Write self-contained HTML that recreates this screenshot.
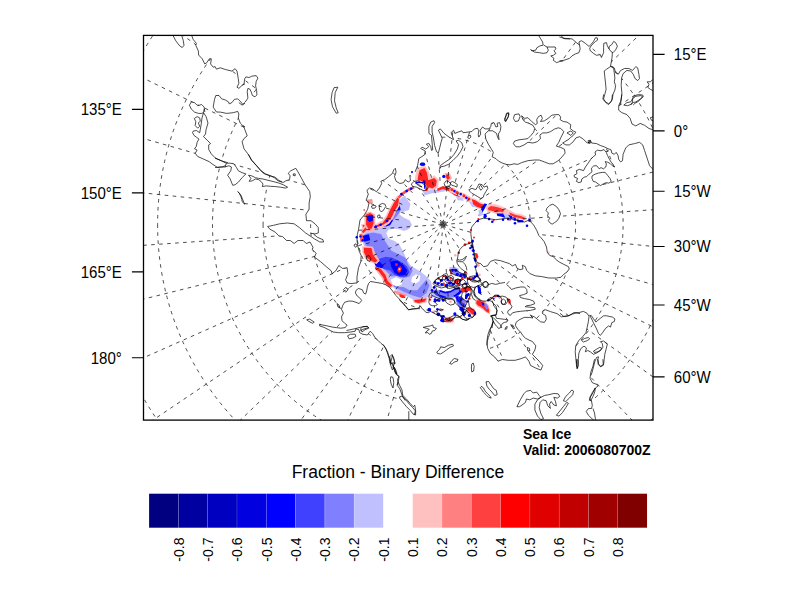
<!DOCTYPE html>
<html><head><meta charset="utf-8"><title>Sea Ice Fraction - Binary Difference</title>
<style>html,body{margin:0;padding:0;background:#fff}svg{display:block}text{font-family:"Liberation Sans",Arial,Helvetica,sans-serif;fill:#000}</style>
</head><body>
<svg width="792" height="612" viewBox="0 0 792 612">
<rect width="792" height="612" fill="#fff"/>
<defs>
<clipPath id="fr"><rect x="143.5" y="35.4" width="509.5" height="384.70000000000005"/></clipPath>
<mask id="ocean" maskUnits="userSpaceOnUse" x="0" y="0" width="792" height="612"><rect width="792" height="612" fill="#fff"/><path d="M191.3 30.0 L191.3 34.4 L193.2 39.5 L196.4 43.4 L195.8 45.3 L198.4 51.1 L198.6 55.0 L202.2 58.8 L204.8 64.0 L206.8 62.7 L209.3 58.8 L211.3 58.8 L210.6 64.0 L213.2 67.2 L215.1 66.6 L216.4 69.1 L220.3 67.8 L225.4 69.5 L231.9 71.1 L235.1 68.7 L237.0 71.1 L238.3 78.8 L238.9 83.3 L237.0 87.2 L238.9 88.4 L242.2 85.2 L245.0 83.9 L242.2 85.2 L244.0 83.9 L244.7 78.8 L245.9 76.9 L249.2 77.5 L251.7 76.2 L256.2 75.6 L257.9 78.1 L256.2 81.4 L255.6 85.9 L256.6 90.4 L256.9 94.9 L255.0 96.8 L252.4 95.5 L251.1 91.7 L249.8 89.1 L247.9 88.4 L247.2 91.7 L247.9 98.1 L245.3 102.0 L242.1 105.2 L238.9 102.6 L245.0 103.3 L242.8 104.5 L240.9 102.0 L237.7 98.8 L234.4 99.4 L231.9 102.6 L229.3 103.9 L228.6 102.0 L225.4 100.0 L221.6 98.8 L219.0 95.5 L215.8 95.5 L214.5 99.4 L213.2 107.1 L216.4 112.0 L216.4 112.0 L220.3 112.1 L226.7 113.4 L233.2 112.7 L237.7 111.4 L238.9 114.0 L238.3 117.9 L240.2 123.0 L242.8 125.6 L245.0 126.9 L243.4 125.6 L245.3 130.8 L247.2 135.9 L244.0 138.5 L242.1 141.7 L244.0 148.8 L247.9 153.9 L251.7 160.4 L256.9 166.2 L260.8 170.7 L264.6 173.9 L269.8 175.8 L274.9 177.1 L278.8 180.3 L282.0 182.0 L283.2 182.5 L285.7 180.9 L289.5 179.6 L290.1 175.8 L288.2 173.3 L290.8 170.8 L295.8 168.3 L297.7 171.4 L300.9 177.1 L304.6 184.0 L309.7 191.6 L310.3 196.7 L309.1 203.0 L309.1 209.3 L305.9 214.3 L306.5 220.7 L311.0 220.7 L315.0 223.8 L315.0 223.8 L318.3 227.6 L318.3 232.9 L313.8 234.4 L317.6 237.4 L322.9 239.7 L323.6 242.0 L319.8 242.0 L314.5 238.9 L310.0 235.9 L305.5 232.9 L299.4 227.6 L294.1 223.8 L287.3 223.0 L279.7 223.8 L273.6 225.3 L267.6 226.5 L267.6 226.5 L269.8 229.1 L275.2 232.1 L278.9 235.9 L282.7 236.7 L286.5 240.5 L290.3 240.5 L294.1 243.5 L297.9 240.5 L303.2 240.5 L306.2 243.5 L310.0 242.0 L313.0 247.3 L312.3 249.5 L316.1 253.3 L314.5 257.1 L320.6 261.7 L326.7 267.0 L331.2 270.8 L332.0 273.8 L335.8 270.8 L338.8 265.5 L342.6 268.5 L347.1 267.7 L347.9 273.8 L345.6 279.8 L347.1 282.9 L350.9 283.6 L357.0 282.9 L357.0 282.9 L357.0 276.8 L358.5 267.7 L360.8 261.7 L361.2 255.6 L359.2 251.1 L357.7 245.8 L357.0 240.5 L357.3 234.7 L358.5 229.8 L360.0 220.0 L364.5 214.7 L367.6 209.4 L369.1 202.6 L366.1 200.3 L368.3 194.2 L368.3 194.2 L367.3 191.8 L367.0 190.3 L369.5 188.0 L372.6 188.8 L376.4 191.8 L379.4 188.0 L381.7 183.5 L380.9 181.2 L384.7 179.7 L388.5 176.7 L392.3 173.6 L393.8 169.8 L395.3 168.3 L396.1 172.1 L394.5 176.7 L396.1 181.2 L399.8 183.5 L403.6 182.7 L405.2 179.7 L408.2 182.0 L410.5 180.5 L409.7 175.2 L415.1 171.9 L417.6 165.6 L418.8 158.6 L424.5 154.8 L425.2 151.0 L420.7 148.5 L422.0 147.2 L425.8 149.1 L428.9 146.6 L426.4 144.1 L428.9 143.5 L430.8 146.6 L431.5 150.4 L432.7 149.8 L432.1 142.8 L431.5 135.3 L428.9 133.4 L428.9 126.4 L430.8 122.0 L434.0 120.7 L434.6 122.6 L432.1 126.4 L432.1 132.1 L433.4 137.8 L434.6 145.4 L436.5 151.7 L438.4 152.9 L439.7 147.9 L440.9 142.8 L442.2 138.4 L440.3 134.0 L438.4 130.2 L440.3 128.9 L444.1 133.4 L449.1 137.1 L453.6 139.7 L452.3 135.9 L451.0 132.7 L453.6 130.2 L454.8 133.4 L458.0 132.1 L461.8 130.8 L463.0 132.7 L468.1 132.1 L471.9 131.5 L474.4 128.9 L477.6 128.3 L478.8 130.8 L478.2 134.6 L478.8 137.1 L480.7 134.0 L480.1 130.2 L482.6 127.0 L485.1 128.9 L488.9 128.9 L490.8 126.4 L491.4 123.3 L494.0 122.6 L495.9 127.0 L497.8 126.4 L497.1 123.3 L499.6 122.6 L500.9 126.4 L500.3 130.8 L498.4 134.0 L499.0 139.7 L497.8 137.8 L496.5 133.4 L492.7 130.8 L488.3 130.8 L485.1 134.0 L485.8 139.0 L488.3 144.1 L491.4 149.1 L493.3 152.3 L492.1 156.7 L495.9 158.6 L498.4 161.1 L502.2 163.0 L506.0 164.3 L510.0 164.9 L509.9 164.9 L514.0 163.8 L517.8 164.4 L521.6 162.6 L527.9 160.7 L534.2 160.0 L539.2 160.0 L544.3 161.9 L549.3 163.8 L553.1 163.8 L558.2 160.7 L562.0 156.9 L565.1 153.1 L564.5 149.3 L560.7 147.4 L556.3 146.1 L558.8 142.3 L560.7 137.9 L563.9 131.6 L563.9 131.6 L560.7 128.5 L558.2 127.8 L554.4 129.1 L550.6 131.6 L546.8 132.9 L542.4 132.9 L539.9 135.4 L540.5 138.6 L537.3 141.7 L532.9 143.0 L527.9 142.3 L524.1 144.9 L519.7 146.8 L515.9 146.8 L513.4 143.6 L514.6 141.1 L519.0 139.8 L524.1 139.2 L527.9 138.6 L531.0 135.4 L533.6 132.2 L534.8 128.5 L532.9 125.3 L529.1 123.4 L525.4 122.1 L522.8 119.6 L521.6 115.8 L524.7 118.4 L527.9 117.7 L531.7 121.5 L535.5 124.7 L537.3 123.4 L536.7 119.6 L538.6 116.5 L541.1 115.2 L542.4 118.4 L540.5 121.5 L544.3 120.9 L548.1 118.4 L551.9 115.2 L555.7 114.6 L558.8 114.6 L560.7 117.1 L560.1 119.6 L563.2 121.5 L567.0 122.1 L570.8 124.7 L570.2 128.5 L573.3 131.0 L575.9 132.2 L573.3 135.4 L570.8 137.3 L568.9 139.2 L565.8 141.1 L562.6 143.0 L565.8 144.9 L569.5 144.9 L573.3 141.7 L575.9 137.9 L579.6 136.7 L583.4 139.2 L587.2 143.0 L590.0 142.3 L588.4 143.0 L590.3 140.5 L591.6 143.0 L596.6 143.6 L600.4 145.5 L604.2 146.8 L608.0 148.7 L611.1 149.9 L611.8 153.1 L614.3 154.3 L616.2 152.4 L618.1 155.6 L618.7 159.4 L620.6 161.9 L622.5 160.7 L623.1 154.3 L625.7 148.0 L628.8 144.9 L634.5 143.6 L639.5 142.3 L642.7 144.9 L644.6 150.6 L647.1 158.1 L649.6 165.7 L654.1 170.5 L660.0 170.5 L660.0 130.1 L654.1 130.1 L649.0 128.5 L644.6 125.3 L640.2 123.4 L635.8 125.9 L632.0 124.0 L630.1 118.4 L626.9 114.6 L621.9 112.7 L618.7 110.2 L618.7 105.7 L620.6 101.3 L621.9 94.4 L621.9 93.1 L621.2 85.6 L621.6 78.0 L623.1 73.6 L626.9 70.4 L630.7 71.0 L633.2 74.2 L635.1 78.6 L637.7 80.5 L639.5 78.6 L638.9 74.2 L637.7 67.9 L635.8 66.6 L632.6 70.4 L628.8 68.5 L624.4 68.5 L620.4 70.7 L618.3 74.2 L615.6 72.9 L614.3 67.9 L612.4 66.6 L612.4 66.6 L613.7 69.1 L614.3 72.9 L614.9 78.0 L614.3 81.8 L615.6 85.6 L614.9 90.0 L613.0 94.4 L612.4 98.8 L610.5 102.6 L608.0 104.5 L605.5 102.0 L603.6 98.8 L604.8 94.4 L606.1 89.3 L605.5 83.0 L604.8 76.7 L604.2 71.0 L606.7 69.1 L610.5 66.6 L610.5 66.6 L611.1 62.8 L612.0 57.8 L612.4 52.7 L613.0 52.7 L615.6 49.9 L617.4 46.2 L615.6 42.6 L613.7 41.4 L613.7 30.0Z M172.4 34.4 L175.8 40.8 L179.7 45.9 L182.3 47.5 L184.0 45.3 L183.2 40.2 L181.4 34.4Z M398.9 298.6 L395.8 295.4 L392.6 291.0 L389.4 287.2 L385.7 284.7 L381.9 283.4 L378.1 282.8 L374.3 282.1 L370.5 281.5 L368.6 283.4 L367.3 287.2 L366.7 291.0 L365.5 294.1 L363.6 292.9 L362.3 289.7 L358.5 288.5 L356.0 290.4 L355.4 292.9 L357.2 296.0 L360.4 298.6 L361.7 300.5 L359.1 303.6 L356.0 302.3 L352.2 301.1 L348.4 301.1 L344.6 302.3 L342.7 305.5 L341.5 309.3 L343.4 313.1 L341.5 316.9 L342.1 320.7 L344.6 323.2 L347.1 325.1 L345.3 327.6 L340.8 328.2 L336.4 327.6 L332.0 327.0 L326.3 325.7 L319.4 324.4 L319.4 324.4 L320.3 324.4 L319.5 325.9 L324.1 327.4 L328.6 329.7 L333.2 332.0 L338.5 332.7 L344.5 332.7 L350.6 332.0 L355.2 331.2 L355.9 328.9 L358.9 329.7 L359.7 332.7 L362.7 334.2 L367.3 335.0 L370.3 331.2 L372.6 333.5 L374.8 337.3 L377.9 340.3 L380.9 343.3 L383.9 345.6 L385.3 347.6 L387.6 352.1 L389.1 356.7 L390.6 361.2 L392.9 365.8 L395.2 370.3 L396.7 374.1 L398.9 376.4 L397.4 380.2 L399.7 385.5 L402.0 390.0 L402.7 395.3 L406.5 399.1 L410.3 403.6 L413.3 406.7 L414.8 405.2 L408.8 411.2 L408.8 421.1 L408.8 426.0 L595.3 426.0 L595.3 421.4 L592.3 419.1 L588.5 415.3 L586.2 411.5 L588.5 408.5 L591.5 408.5 L592.3 405.5 L591.5 400.9 L589.2 400.2 L590.8 396.4 L593.0 392.6 L595.3 388.0 L598.3 385.8 L596.1 384.2 L592.3 382.7 L590.0 378.2 L590.8 372.1 L593.0 366.1 L594.5 359.2 L590.9 375.5 L592.2 372.0 L593.5 366.9 L594.7 361.9 L596.6 357.4 L598.5 356.8 L597.9 359.3 L598.5 363.8 L600.4 366.3 L603.6 364.4 L604.2 359.3 L604.8 354.3 L606.1 349.2 L607.3 344.2 L603.6 341.0 L600.4 341.7 L602.3 343.6 L602.9 347.3 L600.4 350.5 L596.6 353.0 L593.5 354.3 L590.3 351.8 L587.8 350.5 L585.3 351.8 L586.5 348.0 L584.0 346.1 L580.8 348.6 L578.9 353.0 L578.3 359.3 L578.3 365.7 L577.0 368.8 L576.4 364.4 L575.8 358.1 L575.2 351.8 L575.8 345.5 L578.9 340.4 L582.7 336.6 L585.9 332.8 L587.1 327.8 L588.4 321.5 L589.0 316.4 L587.1 313.3 L583.4 311.4 L580.0 313.6 L576.0 313.0 L572.2 314.2 L567.1 316.1 L561.4 316.8 L557.0 313.6 L550.7 311.7 L545.7 309.8 L543.1 310.5 L535.3 309.2 L534.7 307.7 L529.7 307.2 L525.2 306.7 L526.7 305.7 L530.7 305.2 L534.7 303.7 L533.7 301.2 L529.7 299.6 L524.6 298.6 L520.6 297.6 L519.6 295.6 L523.6 294.6 L527.2 293.1 L526.7 289.5 L524.6 287.0 L520.6 287.0 L515.6 288.0 L511.5 289.5 L509.5 287.0 L506.5 284.5 L505.0 282.4 L499.7 283.4 L495.7 284.4 L491.7 283.4 L488.1 284.9 L480.7 284.7 L469.2 286.5 L471.4 289.1 L470.9 292.7 L470.1 296.2 L468.3 299.7 L468.7 302.4 L469.2 305.9 L470.9 308.6 L473.6 309.9 L475.4 312.1 L474.9 314.8 L474.7 314.3 L472.7 317.3 L469.7 318.3 L466.7 320.4 L462.6 319.3 L459.6 317.3 L455.6 317.3 L451.5 319.3 L447.5 320.9 L442.9 321.9 L438.4 314.3 L435.9 314.3 L433.3 312.8 L430.3 311.3 L428.8 312.8 L425.8 312.3 L424.2 310.3 L421.7 308.2 L420.7 306.2 L419.2 307.7 L416.2 308.7 L412.1 309.2 L408.6 309.7 L406.1 306.7 L403.0 303.2 L399.5 300.2Z M478.3 219.7 L483.6 218.2 L489.7 218.9 L495.8 219.7 L501.8 218.9 L507.9 218.2 L513.9 219.7 L520.0 221.2 L524.5 222.0 L529.8 219.7 L531.4 222.7 L533.6 225.0 L536.7 230.3 L538.9 235.6 L541.2 237.9 L544.2 241.7 L546.5 247.0 L547.3 252.3 L549.5 255.3 L553.3 256.8 L556.4 259.8 L559.4 262.1 L563.9 264.4 L568.5 266.7 L569.2 268.9 L567.0 272.0 L563.9 274.2 L560.9 277.3 L556.4 278.0 L548.8 278.0 L541.2 276.5 L535.2 275.8 L529.8 273.5 L526.8 270.5 L525.3 266.7 L522.3 265.2 L523.0 268.9 L520.0 269.7 L517.0 268.2 L515.5 264.4 L512.4 265.9 L509.4 263.6 L504.8 262.1 L500.3 260.6 L495.0 259.8 L490.5 261.4 L487.4 265.9 L483.6 266.7 L480.6 263.6 L477.6 262.9 L475.3 259.1 L473.8 253.0 L473.0 245.5 L471.5 239.4 L470.8 233.3 L471.5 227.3 L474.5 223.5 L478.3 219.7Z M231.4 167.0 L230.8 170.8 L227.6 175.2 L230.2 179.0 L232.7 185.3 L235.2 184.7 L238.4 182.1 L242.1 177.7 L245.9 173.9 L242.1 172.7 L238.4 170.8 L236.5 167.6 L233.9 163.8 L230.2 163.2 L226.4 163.2Z M248.5 175.2 L251.6 175.8 L255.4 177.7 L258.6 178.4 L263.0 179.0 L268.0 180.3 L273.1 181.5 L278.1 182.8 L283.2 184.7 L287.6 187.2 L285.7 188.1 L280.7 187.2 L275.6 186.6 L270.6 186.3 L266.1 185.9 L262.3 186.6 L263.0 184.0 L261.1 181.5 L258.6 179.6 L255.4 179.0 L252.2 180.9 L249.1 181.3 L251.0 178.4 L248.5 175.2Z M203.5 112.7 L202.0 117.9 L201.2 124.3 L200.3 129.5 L199.7 132.7 L196.4 130.5 L193.2 131.1 L192.6 132.7 L193.9 135.3 L196.4 137.2 L199.0 139.1 L197.1 142.3 L196.4 146.2 L194.5 148.8 L197.1 150.1 L195.2 153.3 L197.7 156.5 L203.5 159.1 L209.3 161.7 L212.5 164.2 L217.7 167.5 L222.8 166.8 L225.4 165.5 L231.0 167.0 L226.4 163.2 L225.4 162.3 L220.3 160.4 L215.1 157.8 L211.3 153.9 L208.7 149.4 L208.7 144.9 L210.6 143.6 L207.4 140.4 L203.5 136.6 L205.5 134.0 L206.1 129.5 L208.0 123.0 L206.1 116.6 L203.5 112.7Z M194.5 112.0 L191.3 109.1 L189.4 105.2 L191.3 102.0 L194.5 102.6 L197.7 105.8 L201.6 104.5 L204.2 107.1 L204.8 112.0 L194.5 112.1 L198.4 113.4 L201.6 113.4 L203.5 112.7 L204.2 108.9Z M197.1 116.6 L199.7 117.9 L200.3 121.1 L198.4 123.0 L199.7 126.2 L197.7 128.2 L195.2 125.6 L195.8 121.7 L194.3 118.5 L197.1 116.6Z M574.0 175.4 L577.0 173.6 L576.4 170.6 L579.4 169.4 L583.6 170.6 L585.4 167.0 L588.4 162.8 L590.8 159.2 L593.8 156.2 L595.6 155.0 L595.0 152.0 L597.4 150.2 L601.0 150.8 L604.0 149.6 L606.4 152.6 L607.6 155.6 L609.4 159.2 L611.2 162.2 L613.0 164.6 L614.8 167.0 L612.4 165.8 L610.0 163.4 L607.6 162.2 L605.2 161.6 L606.4 164.0 L605.8 167.0 L603.4 168.8 L601.0 167.6 L599.2 168.8 L596.8 165.8 L593.8 165.8 L591.4 168.2 L592.0 171.8 L589.0 174.2 L586.6 176.6 L584.2 177.2 L581.8 179.0 L581.2 182.0 L578.8 182.6 L576.4 181.4 L577.6 178.4 L574.6 177.2 L574.0 175.4Z M592.0 176.0 L595.0 174.2 L598.6 173.0 L602.2 172.4 L605.2 172.4 L607.6 175.4 L610.0 178.4 L611.2 181.4 L608.8 183.2 L606.4 182.6 L603.4 183.8 L600.4 185.6 L598.0 183.8 L595.6 182.0 L593.2 181.4 L592.0 178.4 L592.0 176.0Z M546.8 208.3 L549.8 205.3 L552.9 204.2 L556.7 206.8 L558.9 209.8 L560.5 213.6 L558.9 218.2 L556.7 221.2 L554.4 222.7 L552.1 224.2 L549.8 222.7 L548.3 220.5 L549.8 218.2 L547.6 215.9 L548.3 212.9 L546.1 210.6 L546.8 208.3Z M468.8 189.7 L472.0 188.4 L475.8 189.7 L477.7 186.5 L478.9 184.0 L482.1 184.6 L484.0 187.1 L487.1 185.9 L487.8 188.4 L485.9 191.6 L484.0 194.7 L483.3 197.2 L480.8 198.5 L477.7 196.6 L474.5 194.7 L472.0 193.5 L470.1 191.6 L468.8 189.7Z M439.7 168.7 L440.3 165.6 L444.7 162.4 L450.4 158.6 L454.2 154.2 L457.3 149.1 L458.6 144.7 L456.1 140.9 L458.6 140.3 L461.8 142.8 L463.0 146.6 L460.5 151.7 L457.3 156.1 L452.9 160.5 L448.5 164.3 L444.1 166.2 L440.9 166.8 L439.7 168.7Z M411.4 184.0 L413.9 181.5 L417.7 180.8 L421.5 182.7 L425.3 185.3 L427.1 189.0 L424.0 190.9 L420.2 189.0 L416.4 187.1 L412.6 186.5 L411.4 184.0Z M471.5 242.0 L469.4 243.5 L465.4 244.5 L462.4 246.6 L459.8 249.6 L458.3 253.1 L457.8 256.7 L457.3 259.2 L456.8 260.7 L457.3 263.7 L459.3 266.8 L461.9 269.3 L464.9 271.3 L466.9 273.3 L466.4 276.4 L467.9 278.9 L471.0 279.4 L473.5 279.9 L476.5 280.9 L478.5 282.4 L480.6 280.9 L479.0 278.4 L477.5 274.8 L476.5 272.3 L475.5 268.3 L476.5 264.7 L475.5 261.7 L474.0 258.2 L474.5 254.1 L473.5 250.1 L472.5 246.1 L471.5 242.0Z M430.3 293.1 L433.3 292.1 L436.4 292.6 L438.9 295.1 L440.4 297.6 L438.4 299.1 L436.4 300.2 L435.4 302.7 L437.4 304.7 L435.4 305.7 L432.3 305.7 L429.8 304.7 L428.8 302.2 L429.3 299.1 L428.8 296.1 L430.3 293.1Z M440.4 297.6 L443.4 299.1 L447.5 298.1 L450.5 298.6 L453.5 300.2 L456.1 303.7 L458.1 305.7 L460.6 307.7 L463.1 309.2 L463.6 312.3 L462.1 315.3 L459.6 316.8 L456.1 315.3 L453.0 315.8 L450.5 317.3 L447.5 318.8 L444.4 319.8 L442.9 321.9 L441.4 320.4 L441.9 317.3 L440.4 315.3 L438.4 314.3 L436.9 312.3 L437.9 309.7 L440.4 309.2 L443.4 309.7 L441.4 310.8 L439.4 310.3Z M589.7 315.2 L591.6 318.9 L594.1 324.0 L596.6 329.0 L598.5 333.5 L600.4 335.4 L602.9 332.2 L605.5 328.4 L608.6 325.9 L610.5 327.1 L611.8 322.7 L614.3 321.5 L614.9 318.9 L612.4 317.0 L609.2 316.4 L606.7 315.8 L603.6 315.8 L600.4 318.3 L597.9 320.2 L596.0 322.1 L593.5 318.9 L591.6 315.8 L589.7 315.2Z M399.7 396.8 L402.0 396.1 L405.8 399.8 L409.5 404.4 L412.6 407.4 L415.6 411.2 L415.6 415.0 L413.3 414.2 L410.3 410.5 L406.5 406.7 L402.7 402.1 L399.7 398.3 L399.7 396.8Z M623.8 105.1 L626.9 102.6 L630.7 101.9 L632.6 98.8 L635.8 96.3 L640.8 95.6 L642.7 96.9 L638.9 100.1 L635.8 101.9 L633.2 102.6 L630.7 104.5 L627.6 105.7 L623.8 105.1Z M450.3 270.3 L453.3 269.3 L456.3 270.3 L459.3 272.3 L461.9 273.8 L464.9 274.8 L466.4 276.4 L465.4 278.4 L462.4 277.4 L459.3 276.4 L456.3 275.4 L453.3 274.3 L450.8 272.8 L450.3 270.3Z M433.1 283.4 L435.1 280.4 L438.1 277.9 L441.2 276.4 L444.2 274.3 L446.7 273.3 L447.7 275.4 L446.7 277.9 L449.2 279.9 L451.8 282.4 L454.3 284.9 L457.3 286.0 L459.3 287.5 L455.3 288.0 L452.3 286.5 L449.2 285.5 L446.2 286.5 L443.2 285.5 L440.2 286.0 L437.1 284.9 L434.6 285.5 L433.1 283.4Z M467.4 278.9 L470.5 279.9 L473.5 280.4 L476.5 281.4 L479.5 280.4 L481.1 282.4 L481.6 285.5 L479.5 287.5 L476.5 286.5 L473.5 287.5 L470.5 286.5 L468.4 284.4 L467.4 281.4 L467.4 278.9Z M366.1 256.4 L369.1 255.6 L370.9 258.6 L369.8 261.4 L367.3 260.5 L366.1 256.4Z M347.6 335.8 L350.6 334.2 L355.2 334.2 L355.9 336.5 L352.9 338.0 L349.1 338.8 L347.6 335.8Z" fill="#000"/><path d="M493.4 321.4 L492.0 325.2 L489.4 330.3 L487.7 335.5 L486.9 342.3 L487.7 348.3 L490.3 353.5 L494.6 356.9 L498.0 361.2 L502.3 359.5 L508.3 360.3 L515.2 360.3 L521.2 358.6 L525.5 356.9 L528.9 361.2 L530.6 365.5 L535.8 368.1 L540.9 370.1 L542.7 365.5 L539.2 361.2 L534.9 356.9 L532.4 354.3 L534.9 350.0 L535.8 345.8 L532.4 341.5 L529.8 340.4 L529.9 340.5 L525.5 338.2 L522.9 335.7 L521.0 332.6 L517.9 329.4 L515.4 325.6 L516.0 322.4 L519.1 319.9 L524.2 317.4 L529.2 317.4 L533.0 318.0 L530.5 315.5 L534.3 316.8 L537.4 319.3 L540.6 321.8 L544.4 322.4 L546.3 319.3 L545.7 315.5 L542.5 313.6 L543.1 310.5 L535.3 309.2 L530.7 310.3 L525.7 310.8 L520.6 311.3 L516.6 311.8 L512.5 312.8 L510.5 315.3 L509.0 314.8 L507.5 312.3 L508.5 310.3 L510.5 309.2 L512.0 306.7 L510.5 304.2 L508.5 300.2 L506.0 297.1 L502.4 296.1 L499.4 296.6 L497.9 295.1 L494.8 295.1 L492.3 297.6 L490.3 299.6 L488.3 300.2 L491.3 301.2 L493.3 303.2 L493.8 306.2 L495.4 307.7 L497.4 310.3 L496.4 313.3 L495.4 315.3 L491.3 315.8 L492.3 318.3 L492.8 320.4Z M480.7 284.7 L477.1 286.0 L474.9 288.3 L473.6 291.4 L474.0 294.9 L475.8 297.5 L478.9 299.7 L482.4 301.1 L486.0 301.1 L488.6 300.2 L492.1 298.4 L493.9 296.2 L489.5 292.7 L486.0 288.3 L483.3 285.6Z M538.2 34.8 L540.7 38.8 L542.6 42.0 L543.2 45.2 L543.9 45.2 L547.0 47.0 L547.0 47.0 L550.8 47.0 L555.2 47.0 L555.9 48.9 L554.0 50.8 L555.9 53.4 L553.3 55.3 L550.8 55.9 L554.0 58.4 L553.3 60.3 L556.5 62.6 L559.6 61.6 L563.4 60.9 L559.4 60.9 L563.8 60.3 L569.5 58.4 L572.0 55.9 L575.2 54.0 L578.9 52.7 L580.2 48.9 L579.6 45.2 L576.4 42.6 L572.0 38.8 L565.1 38.8 L559.4 36.9 L570.0 38.8 L563.4 38.2 L560.3 34.8Z M543.2 45.2 L540.1 45.8 L536.9 47.7 L535.7 50.2 L531.9 50.8 L530.6 49.6 L534.4 52.1 L539.4 52.7 L543.2 53.4 L547.0 52.7 L548.3 50.2 L547.0 47.0 L543.9 45.2Z M610.5 66.6 L606.7 69.1 L604.2 71.0 L604.8 76.7 L605.5 83.0 L606.1 89.3 L604.8 94.4 L603.6 98.8 L605.5 102.0 L608.0 104.5 L610.5 102.6 L612.4 98.8 L613.0 94.4 L614.9 90.0 L615.6 85.6 L614.3 81.8 L614.9 78.0 L614.3 72.9 L613.7 69.1 L612.4 66.6 L610.5 66.6Z M593.1 43.6 L590.9 46.2 L589.7 48.3 L590.3 50.8 L593.5 53.4 L596.6 55.3 L600.4 54.6 L601.4 57.5 L603.6 52.7 L603.6 47.7 L603.8 43.3 L603.8 30.0 L593.1 30.0Z" fill="#fff"/><path d="M491.3 315.8 L495.4 315.3 L496.4 318.3 L500.4 318.8 L504.4 319.3 L507.5 319.8 L507.0 321.9 L504.4 322.4 L502.4 323.4 L501.4 325.4 L500.4 327.9 L498.4 328.4 L496.9 326.4 L495.4 324.9 L494.3 322.9 L492.8 320.4 L492.3 318.3 L491.3 315.8Z" fill="#000"/></mask>
<filter id="bl" x="-5%" y="-5%" width="110%" height="110%"><feGaussianBlur stdDeviation="0.6"/></filter>
</defs>
<g clip-path="url(#fr)">
<g filter="url(#bl)"><path d="M362.7 231.8 L370.3 227.3 L379.4 227.3 L385.5 222.7 L391.5 215.9 L397.6 212.9 L403.6 217.4 L409.7 220.5 L412.0 225.0 L408.2 229.5 L403.6 231.1 L400.6 229.5 L394.5 228.8 L388.5 229.5 L386.2 233.3 L388.5 238.6 L394.5 240.9 L399.1 243.9 L403.6 252.3 L406.7 259.8 L411.2 265.9 L418.8 270.5 L424.8 275.0 L430.9 281.1 L432.4 288.6 L429.4 296.2 L421.8 300.0 L415.8 301.5 L411.2 298.5 L405.2 295.5 L397.6 291.7 L391.5 285.6 L387.0 281.1 L384.7 275.0 L380.9 269.7 L375.6 265.9 L378.6 260.6 L374.1 255.3 L372.6 247.7 L364.2 246.2 L362.0 240.2 L362.7 231.8Z" fill="#c0c0ff"/><path d="M365.0 234.1 L373.3 232.6 L380.9 234.1 L385.5 241.7 L391.5 250.8 L399.1 254.5 L405.2 257.6 L408.2 264.4 L412.7 270.5 L409.7 276.5 L403.6 278.0 L397.6 275.8 L391.5 276.5 L385.5 270.5 L379.4 265.9 L377.9 259.8 L374.8 253.8 L373.3 247.7 L365.8 245.5 L363.5 240.2Z" fill="#8080ff"/><path d="M388.5 282.6 L394.5 287.1 L403.6 291.7 L412.7 295.5 L420.3 297.7 L426.4 293.2 L429.4 285.6 L426.4 279.5 L422.6 284.1 L417.3 290.2 L409.7 290.2 L403.6 287.1 L399.1 287.1 L393.0 284.1Z" fill="#8080ff"/><path d="M390.8 279.5 L396.1 277.3 L401.4 279.5 L402.1 284.1 L397.6 286.4 L392.3 284.8Z" fill="#ffffff"/><path d="M412.0 277.3 L415.8 274.2 L420.3 275.8 L419.5 281.1 L415.0 284.1 L411.2 281.8Z" fill="#ffffff"/><path d="M376.4 259.8 L385.5 256.8 L391.5 257.6 L400.6 261.4 L406.7 265.9 L409.7 272.0 L406.7 276.5 L400.6 277.3 L394.5 275.0 L390.0 270.5 L383.9 268.9 L377.9 265.9Z" fill="#4040ff"/><path d="M390.0 261.4 L397.6 260.6 L403.6 265.2 L407.4 270.5 L405.2 275.0 L399.1 275.8 L394.5 272.7 L391.5 267.4Z" fill="#0000ff"/><path d="M374.1 262.9 L379.4 261.4 L383.9 265.9 L380.9 268.9 L376.4 267.4Z" fill="#0000ff"/><path d="M397.9 267.4 L400.3 265.9 L401.8 268.2 L400.6 272.0 L398.3 272.7 L397.3 270.2Z" fill="#ff2020"/><circle cx="399.5" cy="269.2" r="1.0" fill="#ffffff"/><path d="M394.8 263.6 L397.3 263.2 L397.9 265.6 L395.8 266.2Z" fill="#ff2020"/><path d="M361.2 224.2 L376.4 224.2 L377.1 229.5 L370.3 231.8 L362.7 231.1Z" fill="#ffb0b0"/><path d="M362.7 225.0 L370.3 225.0 L374.8 228.0 L370.3 230.3 L364.2 229.5Z" fill="#ff2020"/><path d="M359.4 234.1 L362.7 233.3 L363.5 241.7 L360.5 242.4Z" fill="#ff6060"/><path d="M362.4 246.2 L372.6 246.5 L375.6 254.1 L379.7 260.6 L376.7 264.1 L369.8 262.1 L365.0 258.6 L362.4 252.6Z" fill="#ffb0b0"/><path d="M363.9 247.7 L371.5 248.0 L373.0 255.0 L377.3 260.5 L375.2 262.6 L370.6 260.5 L366.7 257.4 L363.9 252.3Z" fill="#ff2020"/><path d="M374.1 265.9 L381.7 268.2 L387.0 274.2 L389.2 280.3 L393.8 285.6 L390.8 288.6 L384.7 284.8 L381.7 278.0 L377.1 272.0Z" fill="#ffb0b0"/><path d="M375.6 266.7 L380.9 268.9 L385.5 275.0 L387.7 281.1 L392.3 285.6 L390.0 287.1 L385.5 283.3 L383.2 277.3 L378.6 271.2 L374.8 268.9Z" fill="#ff2020"/><path d="M394.5 290.2 L400.6 292.4 L406.7 294.7 L405.2 297.0 L399.1 295.5 L393.8 292.4Z" fill="#ff9090"/><path d="M412.7 299.2 L422.6 298.0 L427.9 297.7 L426.4 302.6 L418.8 304.1 L413.5 302.6Z" fill="#ffb0b0"/><path d="M414.2 300.0 L421.8 299.2 L426.4 298.5 L424.8 301.5 L418.8 303.0 L415.0 302.3Z" fill="#ff2020"/><circle cx="362.7" cy="240.2" r="1.2" fill="#0000ff"/><circle cx="360.5" cy="236.4" r="1.2" fill="#0000ff"/><circle cx="375.6" cy="227.3" r="1.2" fill="#0000ff"/><circle cx="383.9" cy="225.8" r="1.2" fill="#0000ff"/><path d="M399.8 199.4 L406.7 198.6 L410.5 203.9 L408.9 210.0 L402.1 212.3 L398.3 208.5 L397.6 203.2Z" fill="#c0c0ff"/><path d="M390.0 220.6 L394.5 213.0 L398.3 205.5 L400.6 198.6 L405.2 195.6 L406.7 199.4 L403.6 205.5 L400.6 212.3 L397.6 217.6 L393.0 223.6 L387.0 227.4Z" fill="#c0c0ff"/><path d="M385.5 220.6 L391.5 213.0 L396.1 205.5 L399.8 203.9 L400.6 210.0 L397.6 215.3 L393.0 220.6 L388.5 225.2Z" fill="#8080ff"/><path d="M395.3 205.5 L399.8 206.2 L400.6 210.0 L396.8 210.8Z" fill="#0000ff"/><path d="M384.7 222.1 L390.0 218.3 L393.0 220.6 L390.0 225.2 L385.5 226.7Z" fill="#0000ff"/><path d="M360.5 231.5 L365.0 225.2 L374.8 224.4 L382.1 220.6 L385.9 215.5 L389.5 207.9 L393.3 200.9 L397.3 195.6 L400.0 197.6 L399.2 206.2 L395.5 213.0 L393.0 218.3 L389.2 223.6 L384.7 226.4 L376.4 229.2 L368.8 229.7 L362.7 235.0Z" fill="#ffc0c0"/><path d="M362.0 231.5 L366.1 226.7 L374.8 226.1 L382.7 222.7 L387.0 217.0 L390.3 209.4 L394.1 202.6 L397.6 197.4 L399.1 199.1 L397.9 205.5 L394.1 212.0 L391.8 217.0 L387.9 221.8 L383.6 224.5 L376.4 227.6 L368.8 227.9 L363.0 233.3Z" fill="#ff2020"/><path d="M397.6 196.8 L400.6 193.6 L405.2 190.3 L408.9 188.0 L413.5 186.1 L414.5 188.5 L410.0 190.3 L406.4 192.6 L402.1 196.1 L399.4 198.6Z" fill="#ff5050"/><circle cx="375.6" cy="226.7" r="1.3" fill="#0000ff"/><circle cx="380.6" cy="224.8" r="1.3" fill="#0000ff"/><circle cx="387.0" cy="220.9" r="1.3" fill="#0000ff"/><circle cx="401.4" cy="194.1" r="1.3" fill="#0000ff"/><circle cx="406.7" cy="191.1" r="1.3" fill="#0000ff"/><circle cx="411.2" cy="188.8" r="1.3" fill="#0000ff"/><path d="M417.0 168.3 L424.8 165.3 L429.1 171.8 L430.3 177.9 L434.2 175.2 L438.8 179.4 L438.2 187.3 L433.6 190.8 L429.1 189.5 L427.9 194.1 L423.0 192.6 L420.9 187.6 L414.5 180.5 L415.8 173.3Z" fill="#ffc0c0"/><path d="M419.5 170.3 L424.5 167.9 L427.0 172.7 L428.2 180.0 L430.6 179.4 L434.2 177.9 L436.7 180.5 L436.1 185.8 L432.4 188.5 L428.8 187.3 L427.0 191.5 L423.9 190.3 L422.7 185.5 L417.6 179.4 L418.5 174.2Z" fill="#ff2020"/><path d="M415.8 182.7 L420.3 180.5 L424.8 182.7 L427.1 187.3 L424.8 190.3 L420.3 189.5 L416.5 186.5Z" fill="#ffffff"/><path d="M415.8 181.7 L424.8 181.7 L424.8 183.2 L415.8 183.2Z" fill="#0000ff"/><path d="M423.8 180.5 L425.3 180.5 L425.6 188.8 L424.1 188.8Z" fill="#0000ff"/><path d="M429.4 190.3 L437.0 189.5 L444.5 188.0 L446.1 191.1 L438.5 192.6 L430.9 193.6 L424.8 195.6 L423.3 192.6Z" fill="#c0c0ff"/><path d="M437.0 188.8 L443.0 186.1 L449.1 188.0 L455.2 192.1 L460.0 195.2 L460.0 197.9 L454.4 195.2 L448.3 191.1 L443.0 189.1 L437.7 191.1Z" fill="#ff2020"/><path d="M444.5 172.9 L449.8 172.9 L452.1 178.2 L449.1 181.2 L445.3 178.9Z" fill="#ffb0b0"/><path d="M446.1 174.4 L448.8 174.4 L449.8 178.2 L447.6 179.7 L446.1 177.4Z" fill="#ff2020"/><circle cx="443.8" cy="176.4" r="1.6" fill="#0000ff"/><circle cx="422.6" cy="164.2" r="1.6" fill="#0000ff"/><circle cx="423.6" cy="164.2" r="1.6" fill="#0000ff"/><circle cx="421.5" cy="164.2" r="1.6" fill="#0000ff"/><circle cx="412.0" cy="172.1" r="1.1" fill="#0000ff"/><path d="M366.5 199.7 L372.1 199.1 L373.0 202.7 L367.6 203.6Z" fill="#ff9090"/><path d="M364.5 213.3 L370.3 211.5 L375.2 214.2 L375.2 223.3 L373.3 230.0 L368.0 230.9 L364.5 225.9Z" fill="#ffb0b0"/><path d="M366.1 214.5 L370.3 213.0 L373.6 215.5 L373.6 222.9 L371.8 228.5 L368.5 229.1 L366.1 224.8Z" fill="#ff2020"/><path d="M367.3 216.1 L372.6 214.8 L373.0 220.6 L369.5 222.1 L367.0 219.8Z" fill="#0000ff"/><circle cx="356.7" cy="237.3" r="1.2" fill="#0000ff"/><circle cx="375.6" cy="227.0" r="1.2" fill="#0000ff"/><path d="M362.7 235.8 L368.8 234.2 L370.3 240.3 L364.2 241.8Z" fill="#0000ff"/><circle cx="364.2" cy="210.0" r="0.9" fill="#ff6060"/><path d="M449.4 186.9 L453.8 187.8 L459.5 191.4 L465.8 194.1 L471.5 197.4 L475.9 198.9 L480.9 202.1 L484.1 203.4 L483.1 209.3 L477.1 208.4 L472.7 205.9 L467.7 201.5 L462.0 197.7 L455.7 194.5 L449.4 192.0Z" fill="#ffc8c8"/><circle cx="451.9" cy="189.5" r="1.5" fill="#ff2020"/><circle cx="456.9" cy="192.6" r="1.5" fill="#ff2020"/><circle cx="463.9" cy="195.8" r="1.5" fill="#ff2020"/><circle cx="468.9" cy="198.9" r="1.5" fill="#ff2020"/><circle cx="454.4" cy="191.1" r="1.3" fill="#0000ff"/><circle cx="460.7" cy="194.1" r="1.3" fill="#0000ff"/><circle cx="466.4" cy="197.7" r="1.3" fill="#0000ff"/><path d="M455.7 195.8 L462.6 197.7 L463.9 200.8 L457.6 200.2Z" fill="#c0c0ff"/><path d="M468.9 200.8 L474.6 203.4 L477.1 207.1 L472.1 207.1Z" fill="#c0c0ff"/><path d="M471.5 198.9 L475.3 200.2 L480.3 203.4 L483.5 204.6 L482.2 208.4 L477.1 207.1 L473.4 204.6Z" fill="#ff2020"/><path d="M484.1 203.4 L487.2 204.0 L484.1 209.7 L480.9 214.7 L478.4 216.0 L479.7 211.6 L482.2 207.1Z" fill="#0000ff"/><path d="M478.4 210.3 L481.6 209.7 L483.1 214.7 L479.3 216.6Z" fill="#c0c0ff"/><path d="M485.4 207.1 L490.4 203.4 L496.1 204.6 L501.1 205.9 L506.2 208.4 L511.2 210.9 L516.3 213.5 L521.3 214.1 L526.4 216.6 L525.5 220.7 L519.4 219.4 L514.4 218.1 L509.3 216.4 L504.3 214.5 L500.5 213.8 L496.7 214.5 L492.3 212.6 L487.2 211.8Z" fill="#ffc0c0"/><path d="M487.9 208.0 L491.0 205.9 L495.5 206.8 L500.5 208.0 L504.3 210.1 L503.0 212.2 L499.9 211.8 L496.1 212.3 L492.9 210.9 L488.5 210.3Z" fill="#ff3030"/><path d="M509.3 212.6 L515.7 215.1 L520.7 215.9 L524.7 217.6 L524.2 219.4 L519.4 218.1 L514.4 216.9 L510.0 214.8Z" fill="#ff3030"/><path d="M483.5 214.1 L486.4 213.8 L486.9 217.2 L484.1 217.6Z" fill="#0000ff"/><path d="M496.7 213.5 L503.0 213.5 L506.8 215.4 L505.6 217.9 L500.5 216.6 L497.3 216.0Z" fill="#0000ff"/><path d="M503.0 213.5 L510.0 214.7 L511.2 217.9 L505.6 218.1Z" fill="#c0c0ff"/><path d="M508.1 214.7 L511.9 216.0 L513.1 218.5 L510.6 219.1Z" fill="#0000ff"/><path d="M513.1 217.2 L515.7 217.6 L515.9 220.4 L513.8 220.7Z" fill="#0000ff"/><path d="M516.9 219.8 L523.2 220.2 L523.5 222.3 L517.6 222.4Z" fill="#0000ff"/><circle cx="515.0" cy="223.2" r="1.3" fill="#0000ff"/><circle cx="484.7" cy="216.9" r="1.3" fill="#0000ff"/><circle cx="489.1" cy="219.1" r="1.3" fill="#0000ff"/><circle cx="492.3" cy="221.7" r="1.3" fill="#0000ff"/><circle cx="503.0" cy="219.8" r="1.3" fill="#0000ff"/><circle cx="508.1" cy="219.1" r="1.3" fill="#0000ff"/><circle cx="527.0" cy="225.7" r="1.3" fill="#0000ff"/><circle cx="477.8" cy="221.0" r="1.3" fill="#0000ff"/><path d="M528.3 218.5 L530.8 218.5 L531.1 221.9 L528.5 221.7Z" fill="#0000ff"/><circle cx="478.4" cy="219.1" r="1.0" fill="#ff2020"/><circle cx="493.6" cy="220.2" r="1.0" fill="#ff2020"/><circle cx="510.0" cy="219.8" r="1.0" fill="#ff2020"/><circle cx="470.8" cy="229.9" r="1.0" fill="#ff2020"/><circle cx="474.0" cy="237.4" r="1.0" fill="#ff2020"/><circle cx="465.2" cy="245.0" r="1.0" fill="#ff2020"/><circle cx="468.9" cy="242.5" r="1.0" fill="#ff2020"/><circle cx="458.8" cy="253.0" r="1.0" fill="#ff2020"/><circle cx="475.9" cy="253.9" r="1.0" fill="#ff2020"/><circle cx="531.4" cy="221.0" r="1.2" fill="#ffb0b0"/><circle cx="548.5" cy="252.6" r="1.2" fill="#ffb0b0"/><circle cx="472.7" cy="240.6" r="1.1" fill="#0000ff"/><circle cx="471.5" cy="245.7" r="1.1" fill="#0000ff"/><circle cx="472.7" cy="250.7" r="1.1" fill="#0000ff"/><circle cx="470.2" cy="248.2" r="1.1" fill="#0000ff"/><circle cx="473.4" cy="254.5" r="1.1" fill="#0000ff"/><circle cx="472.5" cy="241.5" r="1.3" fill="#0000ff"/><circle cx="472.0" cy="247.1" r="1.3" fill="#0000ff"/><circle cx="473.5" cy="250.6" r="1.3" fill="#0000ff"/><circle cx="475.5" cy="266.8" r="1.3" fill="#0000ff"/><circle cx="477.0" cy="275.4" r="1.3" fill="#0000ff"/><circle cx="475.0" cy="276.9" r="1.3" fill="#0000ff"/><circle cx="470.5" cy="278.9" r="1.3" fill="#0000ff"/><path d="M473.5 258.0 L475.5 257.4 L476.7 259.7 L476.0 262.0 L474.3 261.2Z" fill="#0000ff"/><path d="M475.5 272.8 L477.5 272.3 L478.0 275.4 L476.3 276.2Z" fill="#0000ff"/><circle cx="464.9" cy="244.5" r="1.2" fill="#ff2020"/><circle cx="469.4" cy="243.0" r="1.2" fill="#ff2020"/><circle cx="458.8" cy="252.6" r="1.2" fill="#ff2020"/><circle cx="467.9" cy="278.4" r="1.2" fill="#ff2020"/><circle cx="472.5" cy="277.9" r="1.2" fill="#ff2020"/><circle cx="478.0" cy="265.3" r="1.2" fill="#ff2020"/><path d="M475.0 253.9 L477.3 253.3 L478.3 256.2 L477.5 258.7 L475.5 258.2Z" fill="#ff2020"/><path d="M477.0 262.7 L479.0 262.2 L479.5 265.8 L477.5 266.3Z" fill="#ffb0b0"/><circle cx="479.5" cy="274.8" r="1.3" fill="#ffb0b0"/><circle cx="455.3" cy="255.2" r="1.3" fill="#ffb0b0"/><path d="M449.2 267.3 L454.3 266.5 L458.8 268.8 L458.3 273.3 L454.3 273.8 L450.3 272.3Z" fill="#c0c0ff"/><path d="M450.8 269.3 L455.3 268.8 L459.8 272.3 L465.4 273.8 L466.4 276.4 L462.4 276.9 L457.3 275.4 L452.8 273.8Z" fill="#8080ff"/><circle cx="452.3" cy="270.3" r="1.6" fill="#0000ff"/><circle cx="457.3" cy="274.3" r="1.6" fill="#0000ff"/><circle cx="460.9" cy="275.4" r="1.6" fill="#0000ff"/><circle cx="463.9" cy="274.8" r="1.6" fill="#0000ff"/><circle cx="455.8" cy="270.3" r="1.6" fill="#0000ff"/><circle cx="465.4" cy="272.3" r="1.3" fill="#ff2020"/><circle cx="451.3" cy="273.3" r="1.3" fill="#ff2020"/><circle cx="450.3" cy="270.3" r="1.3" fill="#ff2020"/><circle cx="438.6" cy="278.4" r="1.3" fill="#ff2020"/><circle cx="445.7" cy="276.6" r="1.3" fill="#ff2020"/><circle cx="449.2" cy="282.4" r="1.3" fill="#ff2020"/><circle cx="443.7" cy="283.9" r="1.3" fill="#ff2020"/><circle cx="457.3" cy="280.4" r="1.3" fill="#ff2020"/><circle cx="455.3" cy="281.9" r="1.3" fill="#ff2020"/><path d="M454.5 279.6 L458.3 278.9 L459.3 281.4 L456.8 283.2 L454.3 282.4Z" fill="#ff2020"/><circle cx="441.2" cy="280.4" r="1.4" fill="#0000ff"/><circle cx="446.2" cy="285.5" r="1.4" fill="#0000ff"/><circle cx="449.7" cy="283.4" r="1.4" fill="#0000ff"/><circle cx="452.8" cy="284.4" r="1.4" fill="#0000ff"/><circle cx="441.7" cy="284.4" r="1.4" fill="#0000ff"/><circle cx="438.1" cy="283.4" r="1.4" fill="#0000ff"/><circle cx="447.7" cy="279.9" r="1.4" fill="#0000ff"/><circle cx="435.1" cy="282.4" r="1.4" fill="#0000ff"/><circle cx="459.3" cy="284.9" r="1.4" fill="#0000ff"/><path d="M430.1 293.0 L434.6 289.0 L440.2 290.0 L445.2 292.0 L450.3 290.0 L455.3 287.7 L459.8 289.0 L459.1 294.0 L455.8 297.1 L450.8 299.4 L445.2 300.4 L440.2 299.1 L434.6 297.6Z" fill="#c0c0ff"/><path d="M433.1 292.5 L436.1 290.5 L440.2 291.5 L445.2 293.5 L450.3 291.5 L454.8 289.5 L457.8 290.5 L456.8 294.0 L453.8 296.1 L449.2 297.6 L444.7 298.4 L440.2 297.1 L436.1 295.6Z" fill="#4040ff"/><path d="M437.1 292.5 L441.2 292.5 L445.2 294.5 L449.2 293.3 L452.3 291.5 L454.3 292.5 L451.3 295.1 L447.2 296.6 L443.2 296.8 L439.1 295.4Z" fill="#0000ff"/><path d="M460.4 288.5 L464.9 287.5 L466.4 290.5 L463.9 292.7 L460.6 291.7Z" fill="#ff2020"/><circle cx="465.4" cy="290.5" r="1.4" fill="#0000ff"/><circle cx="466.4" cy="296.6" r="1.4" fill="#0000ff"/><circle cx="468.4" cy="294.5" r="1.4" fill="#0000ff"/><circle cx="434.1" cy="287.5" r="1.4" fill="#0000ff"/><circle cx="432.1" cy="290.5" r="1.4" fill="#0000ff"/><circle cx="431.1" cy="296.6" r="1.4" fill="#0000ff"/><circle cx="435.1" cy="299.6" r="1.4" fill="#0000ff"/><circle cx="439.1" cy="300.6" r="1.4" fill="#0000ff"/><circle cx="443.2" cy="300.4" r="1.4" fill="#0000ff"/><circle cx="430.1" cy="299.6" r="1.2" fill="#ff2020"/><circle cx="467.4" cy="287.5" r="1.2" fill="#ff2020"/><circle cx="469.4" cy="298.6" r="1.2" fill="#ff2020"/><path d="M477.3 285.3 L479.0 285.7 L480.4 289.5 L480.1 293.5 L478.7 293.3 L479.0 289.7Z" fill="#0000ff"/><circle cx="491.7" cy="298.1" r="1.0" fill="#ff2020"/><circle cx="495.7" cy="296.6" r="1.0" fill="#ff2020"/><circle cx="499.7" cy="297.6" r="1.0" fill="#ff2020"/><circle cx="493.7" cy="298.6" r="1.0" fill="#0000ff"/><circle cx="497.7" cy="296.1" r="1.0" fill="#0000ff"/><path d="M399.5 294.1 L404.0 295.6 L405.6 298.1 L402.0 297.9 L399.5 296.6Z" fill="#ff2020"/><path d="M437.4 291.1 L440.4 289.8 L445.5 291.9 L450.5 290.9 L455.6 288.8 L460.6 289.8 L459.8 294.3 L456.6 296.3 L452.5 297.3 L448.5 298.3 L444.4 297.3 L440.4 296.3 L438.2 294.1Z" fill="#8080ff"/><path d="M447.0 292.3 L452.5 291.7 L456.6 291.3 L457.1 294.3 L452.5 295.3 L447.5 295.1Z" fill="#c0c0ff"/><path d="M438.9 292.1 L442.4 291.6 L445.5 293.6 L446.0 297.6 L442.4 297.9 L439.9 295.9Z" fill="#0000ff"/><path d="M454.5 289.5 L459.6 289.8 L460.1 293.6 L457.1 294.6 L455.4 292.6Z" fill="#0000ff"/><path d="M455.6 297.1 L460.6 295.9 L464.8 300.2 L465.9 305.2 L464.8 310.5 L460.6 309.4 L457.6 305.2 L456.1 301.2Z" fill="#8080ff"/><path d="M456.1 297.6 L460.1 296.9 L462.6 300.2 L460.6 302.2 L457.6 301.7Z" fill="#0000ff"/><path d="M459.6 306.7 L463.1 307.2 L464.1 310.8 L461.1 311.5 L459.4 309.2Z" fill="#0000ff"/><path d="M460.6 303.0 L464.6 302.4 L465.5 306.7 L462.1 306.4Z" fill="#ff6060"/><circle cx="435.4" cy="291.6" r="1.3" fill="#0000ff"/><circle cx="437.4" cy="300.2" r="1.3" fill="#0000ff"/><circle cx="434.8" cy="301.2" r="1.3" fill="#0000ff"/><circle cx="437.4" cy="309.2" r="1.3" fill="#0000ff"/><circle cx="443.4" cy="316.3" r="1.3" fill="#0000ff"/><circle cx="455.1" cy="313.8" r="1.3" fill="#0000ff"/><circle cx="469.2" cy="315.3" r="1.3" fill="#0000ff"/><circle cx="466.7" cy="291.1" r="1.3" fill="#0000ff"/><circle cx="466.7" cy="296.1" r="1.3" fill="#0000ff"/><circle cx="474.7" cy="314.3" r="1.3" fill="#0000ff"/><circle cx="429.3" cy="309.7" r="1.9" fill="#0000ff"/><circle cx="438.4" cy="314.3" r="1.9" fill="#0000ff"/><circle cx="442.9" cy="320.4" r="1.9" fill="#0000ff"/><circle cx="463.6" cy="313.3" r="1.9" fill="#0000ff"/><circle cx="433.3" cy="311.8" r="1.4" fill="#ffb0b0"/><circle cx="440.4" cy="309.7" r="1.4" fill="#ffb0b0"/><circle cx="460.6" cy="316.8" r="1.4" fill="#ffb0b0"/><circle cx="430.3" cy="296.1" r="1.4" fill="#ffb0b0"/><circle cx="450.5" cy="301.7" r="1.4" fill="#ffb0b0"/><path d="M445.5 318.8 L449.5 317.8 L452.7 319.1 L452.3 321.2 L448.5 321.9 L445.7 320.9Z" fill="#ff2020"/><path d="M443.9 317.8 L450.0 316.5 L454.0 318.3 L453.7 322.2 L448.5 323.2 L444.4 321.9Z" fill="#ffb0b0"/><path d="M445.5 318.8 L449.5 317.8 L452.7 319.1 L452.3 321.2 L448.5 321.9 L445.7 320.9Z" fill="#ff2020"/><path d="M464.6 287.0 L470.7 286.5 L471.2 290.6 L466.7 291.3Z" fill="#ff2020"/><path d="M465.7 309.7 L474.7 308.7 L475.3 313.3 L466.7 314.3Z" fill="#ffb0b0"/><path d="M467.2 310.8 L473.7 310.1 L473.9 312.5 L467.9 313.1Z" fill="#ff4040"/><path d="M477.6 287.5 L480.8 287.5 L480.8 293.6 L478.3 293.1Z" fill="#0000ff"/><circle cx="441.4" cy="320.4" r="1.3" fill="#0000ff"/><circle cx="442.4" cy="318.3" r="1.3" fill="#0000ff"/><path d="M475.4 299.7 L480.2 299.0 L484.6 301.1 L488.6 305.1 L490.4 310.4 L489.9 314.3 L486.0 312.6 L482.9 309.9 L479.8 308.1 L477.1 306.4 L475.2 303.7Z" fill="#ffb0b0"/><path d="M476.7 300.6 L479.8 300.2 L481.5 301.5 L484.2 302.4 L487.7 305.9 L489.1 310.4 L488.6 313.0 L486.0 311.2 L483.3 308.6 L480.7 306.8 L478.0 305.5 L476.2 303.3Z" fill="#ff2020"/><path d="M481.4 302.2 L484.0 303.1 L484.6 305.5 L482.4 305.2Z" fill="#0000ff"/><path d="M484.2 303.3 L486.8 304.2 L488.2 308.6 L486.4 309.5 L484.6 306.4Z" fill="#8080ff"/><path d="M477.6 285.2 L479.3 285.6 L480.2 289.1 L481.5 292.7 L480.7 294.0 L478.9 291.8 L478.0 288.3Z" fill="#0000ff"/><path d="M491.7 297.5 L494.8 294.9 L498.8 295.2 L501.9 296.9 L501.0 298.7 L497.9 297.1 L494.8 297.1 L492.6 299.0Z" fill="#ffb0b0"/><path d="M493.0 297.1 L495.2 295.8 L498.3 296.0 L500.5 297.3 L498.3 297.1 L495.2 296.9Z" fill="#ff4040"/><circle cx="488.2" cy="300.2" r="1.2" fill="#0000ff"/><circle cx="498.3" cy="296.0" r="1.2" fill="#0000ff"/><path d="M506.7 297.5 L510.7 298.9 L510.7 305.1 L508.1 304.2Z" fill="#ffb0b0"/><path d="M507.6 298.7 L510.7 300.2 L510.7 303.7 L508.5 303.1Z" fill="#ff4040"/><path d="M439.6 290.0 L445.3 291.8 L450.6 290.9 L455.0 288.3 L459.4 287.4 L461.2 290.0 L457.7 292.7 L453.3 295.3 L448.8 297.1 L444.4 296.2 L439.6 294.4Z" fill="#8080ff"/><path d="M439.6 290.0 L445.3 291.8 L450.6 290.9 L455.0 288.3 L459.4 287.4 L459.9 288.7 L455.5 289.8 L450.6 292.5 L445.3 293.4 L439.6 291.8Z" fill="#0000ff"/><path d="M453.3 295.5 L458.1 293.1 L461.0 290.2 L461.7 292.2 L459.0 294.9 L454.6 297.1Z" fill="#0000ff"/><path d="M455.0 296.2 L458.6 295.3 L459.4 299.7 L462.1 302.4 L465.6 304.2 L466.5 307.7 L463.0 306.8 L459.4 304.2 L456.8 301.5Z" fill="#4040ff"/><path d="M455.5 296.7 L458.1 296.0 L458.7 299.7 L461.2 302.0 L459.9 302.8 L457.2 300.6Z" fill="#0000ff"/><path d="M460.8 290.5 L463.0 288.3 L466.5 286.9 L469.2 287.4 L468.3 289.6 L464.7 290.9 L462.1 292.2Z" fill="#ff2020"/><path d="M465.6 307.9 L470.1 306.8 L474.3 308.8 L476.2 312.1 L475.2 315.7 L471.4 314.8 L468.5 311.9 L466.3 310.8Z" fill="#ffb0b0"/><path d="M466.5 308.6 L470.1 307.7 L473.6 309.5 L475.4 312.1 L474.5 314.8 L471.8 313.9 L469.2 311.2 L467.0 310.4Z" fill="#ff2020"/><circle cx="463.0" cy="312.1" r="1.3" fill="#0000ff"/><circle cx="463.9" cy="314.8" r="1.3" fill="#0000ff"/><circle cx="469.2" cy="315.7" r="1.3" fill="#0000ff"/><circle cx="474.9" cy="313.4" r="1.3" fill="#0000ff"/><circle cx="466.5" cy="295.3" r="1.3" fill="#0000ff"/><circle cx="466.1" cy="298.0" r="1.3" fill="#0000ff"/><circle cx="467.4" cy="301.5" r="1.3" fill="#0000ff"/><circle cx="441.8" cy="316.5" r="1.3" fill="#0000ff"/><circle cx="442.7" cy="319.2" r="1.3" fill="#0000ff"/><circle cx="441.8" cy="280.3" r="1.3" fill="#0000ff"/><circle cx="447.1" cy="284.7" r="1.3" fill="#0000ff"/><circle cx="450.6" cy="283.0" r="1.3" fill="#0000ff"/><circle cx="466.5" cy="283.8" r="1.3" fill="#0000ff"/><circle cx="473.6" cy="278.5" r="1.3" fill="#0000ff"/><circle cx="477.1" cy="275.9" r="1.3" fill="#0000ff"/><circle cx="454.6" cy="313.9" r="1.3" fill="#0000ff"/><path d="M444.9 318.1 L448.8 317.6 L453.3 319.2 L453.1 321.1 L448.8 320.3 L445.3 319.9Z" fill="#ff6060"/><circle cx="443.5" cy="275.9" r="1.2" fill="#ff2020"/><circle cx="456.8" cy="281.2" r="1.2" fill="#ff2020"/><circle cx="458.6" cy="284.7" r="1.2" fill="#ff2020"/><circle cx="470.9" cy="279.0" r="1.2" fill="#ff2020"/><circle cx="450.6" cy="278.5" r="1.2" fill="#ff2020"/><circle cx="462.1" cy="278.5" r="1.2" fill="#ff2020"/><circle cx="446.2" cy="277.7" r="1.2" fill="#0000ff"/><circle cx="454.1" cy="283.8" r="1.2" fill="#0000ff"/><circle cx="460.3" cy="280.3" r="1.2" fill="#0000ff"/><circle cx="464.7" cy="276.8" r="1.2" fill="#0000ff"/></g>
<g mask="url(#ocean)"><path d="M-108.8 470.1 L442.7 224.6 M-48.5 556.0 L407.2 248.6 M-2.5 654.7 L442.8 224.7 M85.8 716.2 L417.7 259.4 M181.5 760.7 L442.9 224.8 M271.3 823.6 L431.2 266.0 M379.2 832.8 L443.1 224.8 M485.0 823.3 L446.1 267.6 M585.7 796.2 L443.2 224.8 M693.5 786.8 L460.7 263.9 M780.9 725.3 L443.3 224.8 M855.0 651.0 L473.2 255.5 M944.2 588.5 L443.4 224.7 M989.5 490.9 L482.0 243.4 M1016.7 388.9 L443.5 224.5 M1063.0 289.6 L486.1 228.9 M1053.4 181.7 L443.5 224.4 M1025.7 79.1 L485.1 213.9 M981.5 -15.3 L443.5 224.2 M953.4 -119.8 L479.0 200.2 M877.7 -195.3 L443.4 224.1 M791.7 -255.3 L468.5 189.4 M714.6 -332.4 L443.3 224.0 M610.7 -360.0 L455.0 182.8 M505.5 -369.0 L443.1 224.0 M399.6 -397.4 L440.1 181.2 M295.1 -369.2 L443.0 224.0 M198.9 -324.1 L425.5 184.9 M113.6 -264.2 L442.9 224.0 M15.5 -218.4 L413.0 193.3 M-45.7 -130.7 L442.8 224.1 M-89.9 -35.6 L404.2 205.4 M-152.4 53.7 L442.7 224.3 M-161.5 160.9 L400.1 219.9 M-152.1 266.0 L442.7 224.4 M-161.7 375.2 L401.1 234.9 M-51.4 224.4 A494.5 494.5 0 1 0 937.6 224.4 A494.5 494.5 0 1 0 -51.4 224.4 M28.2 224.4 A414.9 414.9 0 1 0 858.0 224.4 A414.9 414.9 0 1 0 28.2 224.4 M96.8 224.4 A346.3 346.3 0 1 0 789.4 224.4 A346.3 346.3 0 1 0 96.8 224.4 M157.6 224.4 A285.5 285.5 0 1 0 728.6 224.4 A285.5 285.5 0 1 0 157.6 224.4 M212.5 224.4 A230.6 230.6 0 1 0 673.7 224.4 A230.6 230.6 0 1 0 212.5 224.4 M263.1 224.4 A180.0 180.0 0 1 0 623.1 224.4 A180.0 180.0 0 1 0 263.1 224.4 M310.6 224.4 A132.5 132.5 0 1 0 575.6 224.4 A132.5 132.5 0 1 0 310.6 224.4 M355.9 224.4 A87.2 87.2 0 1 0 530.3 224.4 A87.2 87.2 0 1 0 355.9 224.4" fill="none" stroke="#000" stroke-width="0.7" stroke-dasharray="3.6 4.4"/></g>
<path d="M172.4 34.4 L175.8 40.8 L179.7 45.9 L182.3 47.5 L184.0 45.3 L183.2 40.2 L181.4 34.4 M191.3 34.4 L193.2 39.5 L196.4 43.4 L195.8 45.3 L198.4 51.1 L198.6 55.0 L202.2 58.8 L204.8 64.0 L206.8 62.7 L209.3 58.8 L211.3 58.8 L210.6 64.0 L213.2 67.2 L215.1 66.6 L216.4 69.1 L220.3 67.8 L225.4 69.5 L231.9 71.1 L235.1 68.7 L237.0 71.1 L238.3 78.8 L238.9 83.3 L237.0 87.2 L238.9 88.4 L242.2 85.2 L245.0 83.9 M194.5 112.0 L191.3 109.1 L189.4 105.2 L191.3 102.0 L194.5 102.6 L197.7 105.8 L201.6 104.5 L204.2 107.1 L204.8 112.0 M216.4 112.0 L213.2 107.1 L214.5 99.4 L215.8 95.5 L219.0 95.5 L221.6 98.8 L225.4 100.0 L228.6 102.0 L229.3 103.9 L231.9 102.6 L234.4 99.4 L237.7 98.8 L240.9 102.0 L242.8 104.5 L245.0 103.3 M242.2 85.2 L244.0 83.9 L244.7 78.8 L245.9 76.9 L249.2 77.5 L251.7 76.2 L256.2 75.6 L257.9 78.1 L256.2 81.4 L255.6 85.9 L256.6 90.4 L256.9 94.9 L255.0 96.8 L252.4 95.5 L251.1 91.7 L249.8 89.1 L247.9 88.4 L247.2 91.7 L247.9 98.1 L245.3 102.0 L242.1 105.2 L238.9 102.6 M197.1 116.6 L199.7 117.9 L200.3 121.1 L198.4 123.0 L199.7 126.2 L197.7 128.2 L195.2 125.6 L195.8 121.7 L194.3 118.5 L197.1 116.6 M203.5 112.7 L206.1 116.6 L208.0 123.0 L206.1 129.5 L205.5 134.0 L203.5 136.6 L207.4 140.4 L210.6 143.6 L208.7 144.9 L208.7 149.4 L211.3 153.9 L215.1 157.8 L220.3 160.4 L225.4 162.3 M203.5 112.7 L202.0 117.9 L201.2 124.3 L200.3 129.5 L199.7 132.7 L196.4 130.5 L193.2 131.1 L192.6 132.7 L193.9 135.3 L196.4 137.2 L199.0 139.1 L197.1 142.3 L196.4 146.2 L194.5 148.8 L197.1 150.1 L195.2 153.3 L197.7 156.5 L203.5 159.1 L209.3 161.7 L212.5 164.2 L217.7 167.5 L222.8 166.8 L225.4 165.5 M194.5 112.1 L198.4 113.4 L201.6 113.4 L203.5 112.7 L204.2 108.9 M216.4 112.0 L220.3 112.1 L226.7 113.4 L233.2 112.7 L237.7 111.4 L238.9 114.0 L238.3 117.9 L240.2 123.0 L242.8 125.6 L245.0 126.9 M243.4 125.6 L245.3 130.8 L247.2 135.9 L244.0 138.5 L242.1 141.7 L244.0 148.8 L247.9 153.9 L251.7 160.4 L256.9 166.2 L260.8 170.7 L264.6 173.9 L269.8 175.8 L274.9 177.1 L278.8 180.3 L282.0 182.0 M215.0 158.2 L221.3 160.7 L226.4 163.2 L225.1 167.0 L228.9 165.7 L231.4 167.0 M215.0 167.6 L220.1 167.0 L225.1 167.0 M231.4 167.0 L230.8 170.8 L227.6 175.2 L230.2 179.0 L232.7 185.3 L235.2 184.7 L238.4 182.1 L242.1 177.7 L245.9 173.9 L242.1 172.7 L238.4 170.8 L236.5 167.6 L233.9 163.8 L230.2 163.2 L226.4 163.2 M248.5 175.2 L251.6 175.8 L255.4 177.7 L258.6 178.4 L263.0 179.0 L268.0 180.3 L273.1 181.5 L278.1 182.8 L283.2 184.7 L287.6 187.2 L285.7 188.1 L280.7 187.2 L275.6 186.6 L270.6 186.3 L266.1 185.9 L262.3 186.6 L263.0 184.0 L261.1 181.5 L258.6 179.6 L255.4 179.0 L252.2 180.9 L249.1 181.3 L251.0 178.4 L248.5 175.2 M248.5 154.4 L251.6 160.1 L256.7 165.7 L261.1 170.8 L265.5 173.9 L270.6 175.8 L274.3 177.7 L278.1 180.9 L283.2 182.5 L285.7 180.9 L289.5 179.6 L290.1 175.8 L288.2 173.3 L290.8 170.8 L295.8 168.3 L297.7 171.4 L300.9 177.1 L304.6 184.0 L309.7 191.6 L310.3 196.7 L309.1 203.0 L309.1 209.3 L305.9 214.3 L306.5 220.7 L311.0 220.7 L315.0 223.8 M293.3 173.9 L295.2 173.9 L295.2 175.8 L293.3 175.5 L293.3 173.9 M237.7 191.6 L239.2 192.9 L240.9 196.7 L241.8 199.2 L242.1 201.7 L244.7 204.2 L243.8 202.3 L242.5 199.2 L241.3 196.0 L239.6 193.5 L237.7 191.6 M315.0 223.8 L318.3 227.6 L318.3 232.9 L313.8 234.4 L317.6 237.4 L322.9 239.7 L323.6 242.0 L319.8 242.0 L314.5 238.9 L310.0 235.9 L305.5 232.9 L299.4 227.6 L294.1 223.8 L287.3 223.0 L279.7 223.8 L273.6 225.3 L267.6 226.5 M267.6 226.5 L269.8 229.1 L275.2 232.1 L278.9 235.9 L282.7 236.7 L286.5 240.5 L290.3 240.5 L294.1 243.5 L297.9 240.5 L303.2 240.5 L306.2 243.5 L310.0 242.0 L313.0 247.3 L312.3 249.5 L316.1 253.3 L314.5 257.1 L320.6 261.7 L326.7 267.0 L331.2 270.8 L332.0 273.8 L335.8 270.8 L338.8 265.5 L342.6 268.5 L347.1 267.7 L347.9 273.8 L345.6 279.8 L347.1 282.9 L350.9 283.6 L357.0 282.9 M357.0 282.9 L357.0 276.8 L358.5 267.7 L360.8 261.7 L361.2 255.6 L359.2 251.1 L357.7 245.8 L357.0 240.5 L357.3 234.7 L358.5 229.8 L360.0 220.0 L364.5 214.7 L367.6 209.4 L369.1 202.6 L366.1 200.3 L368.3 194.2 M366.1 256.4 L369.1 255.6 L370.9 258.6 L369.8 261.4 L367.3 260.5 L366.1 256.4 M368.3 194.2 L367.3 191.8 L367.0 190.3 L369.5 188.0 L372.6 188.8 L376.4 191.8 L379.4 188.0 L381.7 183.5 L380.9 181.2 L384.7 179.7 L388.5 176.7 L392.3 173.6 L393.8 169.8 L395.3 168.3 L396.1 172.1 L394.5 176.7 L396.1 181.2 L399.8 183.5 L403.6 182.7 L405.2 179.7 L408.2 182.0 L410.5 180.5 L409.7 175.2 M415.1 171.9 L417.6 165.6 L418.8 158.6 L424.5 154.8 L425.2 151.0 L420.7 148.5 L422.0 147.2 L425.8 149.1 L428.9 146.6 L426.4 144.1 L428.9 143.5 L430.8 146.6 L431.5 150.4 L432.7 149.8 L432.1 142.8 L431.5 135.3 L428.9 133.4 L428.9 126.4 L430.8 122.0 L434.0 120.7 L434.6 122.6 L432.1 126.4 L432.1 132.1 L433.4 137.8 L434.6 145.4 L436.5 151.7 L438.4 152.9 L439.7 147.9 L440.9 142.8 L442.2 138.4 L440.3 134.0 L438.4 130.2 L440.3 128.9 L444.1 133.4 L449.1 137.1 L453.6 139.7 L452.3 135.9 L451.0 132.7 L453.6 130.2 L454.8 133.4 L458.0 132.1 L461.8 130.8 L463.0 132.7 L468.1 132.1 L471.9 131.5 L474.4 128.9 L477.6 128.3 L478.8 130.8 L478.2 134.6 L478.8 137.1 L480.7 134.0 L480.1 130.2 L482.6 127.0 L485.1 128.9 L488.9 128.9 L490.8 126.4 L491.4 123.3 L494.0 122.6 L495.9 127.0 L497.8 126.4 L497.1 123.3 L499.6 122.6 L500.9 126.4 L500.3 130.8 L498.4 134.0 L499.0 139.7 L497.8 137.8 L496.5 133.4 L492.7 130.8 L488.3 130.8 L485.1 134.0 L485.8 139.0 L488.3 144.1 L491.4 149.1 L493.3 152.3 L492.1 156.7 L495.9 158.6 L498.4 161.1 L502.2 163.0 L506.0 164.3 L510.0 164.9 M439.7 168.7 L440.3 165.6 L444.7 162.4 L450.4 158.6 L454.2 154.2 L457.3 149.1 L458.6 144.7 L456.1 140.9 L458.6 140.3 L461.8 142.8 L463.0 146.6 L460.5 151.7 L457.3 156.1 L452.9 160.5 L448.5 164.3 L444.1 166.2 L440.9 166.8 L439.7 168.7 M468.1 135.9 L470.4 135.3 L470.9 137.1 L469.3 138.5 L467.8 137.8 L468.1 135.9 M504.7 120.7 L506.0 116.3 L507.2 113.2 L509.1 113.8 L508.2 116.9 L507.2 118.8 L505.3 121.4 L504.7 120.7 M563.9 131.6 L560.7 128.5 L558.2 127.8 L554.4 129.1 L550.6 131.6 L546.8 132.9 L542.4 132.9 L539.9 135.4 L540.5 138.6 L537.3 141.7 L532.9 143.0 L527.9 142.3 L524.1 144.9 L519.7 146.8 L515.9 146.8 L513.4 143.6 L514.6 141.1 L519.0 139.8 L524.1 139.2 L527.9 138.6 L531.0 135.4 L533.6 132.2 L534.8 128.5 L532.9 125.3 L529.1 123.4 L525.4 122.1 L522.8 119.6 L521.6 115.8 L524.7 118.4 L527.9 117.7 L531.7 121.5 L535.5 124.7 L537.3 123.4 L536.7 119.6 L538.6 116.5 L541.1 115.2 L542.4 118.4 L540.5 121.5 L544.3 120.9 L548.1 118.4 L551.9 115.2 L555.7 114.6 L558.8 114.6 L560.7 117.1 L560.1 119.6 L563.2 121.5 L567.0 122.1 L570.8 124.7 L570.2 128.5 L573.3 131.0 L575.9 132.2 L573.3 135.4 L570.8 137.3 L568.9 139.2 L565.8 141.1 L562.6 143.0 L565.8 144.9 L569.5 144.9 L573.3 141.7 L575.9 137.9 L579.6 136.7 L583.4 139.2 L587.2 143.0 L590.0 142.3 M509.9 164.9 L514.0 163.8 L517.8 164.4 L521.6 162.6 L527.9 160.7 L534.2 160.0 L539.2 160.0 L544.3 161.9 L549.3 163.8 L553.1 163.8 L558.2 160.7 L562.0 156.9 L565.1 153.1 L564.5 149.3 L560.7 147.4 L556.3 146.1 L558.8 142.3 L560.7 137.9 L563.9 131.6 M506.4 113.3 L508.7 112.7 L508.3 116.5 L505.8 121.5 L504.5 119.0 L505.8 115.8 L506.4 113.3 M514.6 114.6 L519.0 113.9 L520.1 116.5 L518.4 120.9 L515.3 121.5 L513.4 118.4 L514.6 114.6 M567.0 132.9 L570.8 131.0 L573.3 132.9 L570.8 135.4 L567.0 132.9 M559.4 36.9 L565.1 38.8 L572.0 38.8 L576.4 42.6 L579.6 45.2 L580.2 48.9 L578.9 52.7 L575.2 54.0 L572.0 55.9 L569.5 58.4 L563.8 60.3 L559.4 60.9 M579.6 45.2 L578.9 42.0 L581.5 40.7 L585.3 43.3 L589.0 46.4 L591.6 43.9 L593.5 41.4 L595.4 37.8 L597.2 37.8 L597.6 40.1 L595.4 41.6 L593.1 43.6 L590.9 46.2 L589.7 48.3 L590.3 50.8 L593.5 53.4 L596.6 55.3 L600.4 54.6 L601.4 57.5 L603.6 52.7 L603.6 47.7 L603.8 43.3 L606.5 42.6 L607.3 45.8 L609.0 48.9 L611.1 51.7 L613.0 52.7 L615.6 49.9 L617.4 46.2 L615.6 42.6 L613.7 41.4 L611.8 44.5 L609.2 46.4 L609.0 48.9 M612.4 52.7 L612.0 57.8 L611.1 62.8 L610.5 66.6 M610.5 66.6 L606.7 69.1 L604.2 71.0 L604.8 76.7 L605.5 83.0 L606.1 89.3 L604.8 94.4 L603.6 98.8 L605.5 102.0 L608.0 104.5 L610.5 102.6 L612.4 98.8 L613.0 94.4 L614.9 90.0 L615.6 85.6 L614.3 81.8 L614.9 78.0 L614.3 72.9 L613.7 69.1 L612.4 66.6 L610.5 66.6 M612.4 66.6 L614.3 67.9 L615.6 72.9 L618.3 74.2 L620.4 70.7 L624.4 68.5 L628.8 68.5 L632.6 70.4 L635.8 66.6 L637.7 67.9 L638.9 74.2 L639.5 78.6 L637.7 80.5 L635.1 78.6 L633.2 74.2 L630.7 71.0 L626.9 70.4 L623.1 73.6 L621.6 78.0 L621.2 85.6 L621.9 93.1 L621.2 100.7 L620.0 105.0 M630.7 105.0 L632.6 102.0 L632.6 98.2 L634.5 95.7 L638.3 94.6 L642.7 95.0 L643.3 96.7 L640.8 98.8 L637.7 102.0 L635.1 103.2 L633.2 105.0 M654.1 78.6 L650.3 81.8 L647.1 81.8 L649.0 84.3 L647.8 87.4 L650.3 89.3 L654.1 91.2 M603.6 94.4 L602.9 99.4 L605.5 101.9 L608.6 103.8 L611.8 100.7 L612.4 94.4 M621.9 94.4 L620.6 101.3 L618.7 105.7 L618.7 110.2 L621.9 112.7 L626.9 114.6 L630.1 118.4 L632.0 124.0 L635.8 125.9 L640.2 123.4 L644.6 125.3 L649.0 128.5 L654.1 130.1 M623.8 105.1 L626.9 102.6 L630.7 101.9 L632.6 98.8 L635.8 96.3 L640.8 95.6 L642.7 96.9 L638.9 100.1 L635.8 101.9 L633.2 102.6 L630.7 104.5 L627.6 105.7 L623.8 105.1 M654.1 116.5 L650.3 117.7 L651.5 120.3 L654.1 120.9 M588.4 143.0 L590.3 140.5 L591.6 143.0 L596.6 143.6 L600.4 145.5 L604.2 146.8 L608.0 148.7 L611.1 149.9 L611.8 153.1 L614.3 154.3 L616.2 152.4 L618.1 155.6 L618.7 159.4 L620.6 161.9 L622.5 160.7 L623.1 154.3 L625.7 148.0 L628.8 144.9 L634.5 143.6 L639.5 142.3 L642.7 144.9 L644.6 150.6 L647.1 158.1 L649.6 165.7 L654.1 170.5 M588.0 140.7 L590.3 140.2 L590.9 142.7 L588.8 143.6 L588.0 140.7 M574.0 175.4 L577.0 173.6 L576.4 170.6 L579.4 169.4 L583.6 170.6 L585.4 167.0 L588.4 162.8 L590.8 159.2 L593.8 156.2 L595.6 155.0 L595.0 152.0 L597.4 150.2 L601.0 150.8 L604.0 149.6 L606.4 152.6 L607.6 155.6 L609.4 159.2 L611.2 162.2 L613.0 164.6 L614.8 167.0 L612.4 165.8 L610.0 163.4 L607.6 162.2 L605.2 161.6 L606.4 164.0 L605.8 167.0 L603.4 168.8 L601.0 167.6 L599.2 168.8 L596.8 165.8 L593.8 165.8 L591.4 168.2 L592.0 171.8 L589.0 174.2 L586.6 176.6 L584.2 177.2 L581.8 179.0 L581.2 182.0 L578.8 182.6 L576.4 181.4 L577.6 178.4 L574.6 177.2 L574.0 175.4 M592.0 176.0 L595.0 174.2 L598.6 173.0 L602.2 172.4 L605.2 172.4 L607.6 175.4 L610.0 178.4 L611.2 181.4 L608.8 183.2 L606.4 182.6 L603.4 183.8 L600.4 185.6 L598.0 183.8 L595.6 182.0 L593.2 181.4 L592.0 178.4 L592.0 176.0 M546.8 208.3 L549.8 205.3 L552.9 204.2 L556.7 206.8 L558.9 209.8 L560.5 213.6 L558.9 218.2 L556.7 221.2 L554.4 222.7 L552.1 224.2 L549.8 222.7 L548.3 220.5 L549.8 218.2 L547.6 215.9 L548.3 212.9 L546.1 210.6 L546.8 208.3 M538.2 34.8 L540.7 38.8 L542.6 42.0 L543.2 45.2 L540.1 45.8 L536.9 47.7 L535.7 50.2 L531.9 50.8 L530.6 49.6 L534.4 52.1 L539.4 52.7 L543.2 53.4 L547.0 52.7 L548.3 50.2 L547.0 47.0 L543.9 45.2 M547.0 47.0 L550.8 47.0 L555.2 47.0 L555.9 48.9 L554.0 50.8 L555.9 53.4 L553.3 55.3 L550.8 55.9 L554.0 58.4 L553.3 60.3 L556.5 62.6 L559.6 61.6 L563.4 60.9 M560.3 34.8 L563.4 38.2 L570.0 38.8 M334.1 87.6 L337.8 87.2 L335.2 92.6 L334.5 100.7 L336.2 107.8 L338.2 112.8 L336.2 113.2 L332.5 106.8 L331.1 99.7 L332.1 92.6 L334.1 87.6 M411.4 184.0 L413.9 181.5 L417.7 180.8 L421.5 182.7 L425.3 185.3 L427.1 189.0 L424.0 190.9 L420.2 189.0 L416.4 187.1 L412.6 186.5 L411.4 184.0 M415.2 182.7 L418.9 184.6 L422.1 187.1 L418.9 185.9 L415.2 182.7 M444.2 183.4 L446.1 180.8 L448.6 181.5 L450.5 183.4 L449.9 185.9 L447.3 187.1 L444.8 185.9 L444.2 183.4 M449.9 182.7 L452.4 181.5 L454.9 182.7 L457.4 184.6 L456.8 187.1 L454.3 185.9 L451.8 185.3 L449.9 182.7 M445.5 187.1 L448.0 188.4 L450.5 187.8 L448.6 185.9 L445.5 187.1 M468.8 189.7 L472.0 188.4 L475.8 189.7 L477.7 186.5 L478.9 184.0 L482.1 184.6 L484.0 187.1 L487.1 185.9 L487.8 188.4 L485.9 191.6 L484.0 194.7 L483.3 197.2 L480.8 198.5 L477.7 196.6 L474.5 194.7 L472.0 193.5 L470.1 191.6 L468.8 189.7 M478.9 187.1 L480.8 185.3 L482.7 188.4 L480.8 190.3 L478.9 187.1 M478.3 219.7 L483.6 218.2 L489.7 218.9 L495.8 219.7 L501.8 218.9 L507.9 218.2 L513.9 219.7 L520.0 221.2 L524.5 222.0 L529.8 219.7 L531.4 222.7 L533.6 225.0 L536.7 230.3 L538.9 235.6 L541.2 237.9 L544.2 241.7 L546.5 247.0 L547.3 252.3 L549.5 255.3 L553.3 256.8 L556.4 259.8 L559.4 262.1 L563.9 264.4 L568.5 266.7 L569.2 268.9 L567.0 272.0 L563.9 274.2 L560.9 277.3 L556.4 278.0 L548.8 278.0 L541.2 276.5 L535.2 275.8 L529.8 273.5 L526.8 270.5 L525.3 266.7 L522.3 265.2 L523.0 268.9 L520.0 269.7 L517.0 268.2 L515.5 264.4 L512.4 265.9 L509.4 263.6 L504.8 262.1 L500.3 260.6 L495.0 259.8 L490.5 261.4 L487.4 265.9 L483.6 266.7 L480.6 263.6 L477.6 262.9 L475.3 259.1 L473.8 253.0 L473.0 245.5 L471.5 239.4 L470.8 233.3 L471.5 227.3 L474.5 223.5 L478.3 219.7 M353.9 245.0 L355.8 243.8 L357.0 245.8 L355.5 247.4 L353.9 245.0 M471.5 242.0 L469.4 243.5 L465.4 244.5 L462.4 246.6 L459.8 249.6 L458.3 253.1 L457.8 256.7 L457.3 259.2 L456.8 260.7 L457.3 263.7 L459.3 266.8 L461.9 269.3 L464.9 271.3 L466.9 273.3 L466.4 276.4 L467.9 278.9 L471.0 279.4 L473.5 279.9 L476.5 280.9 L478.5 282.4 L480.6 280.9 L479.0 278.4 L477.5 274.8 L476.5 272.3 L475.5 268.3 L476.5 264.7 L475.5 261.7 L474.0 258.2 L474.5 254.1 L473.5 250.1 L472.5 246.1 L471.5 242.0 M457.3 259.2 L459.8 260.2 L462.9 259.2 L465.4 257.2 L466.4 256.2 L464.9 259.7 L462.4 261.7 L459.3 261.7 L456.8 260.7 M462.9 262.2 L464.9 264.2 L466.4 267.3 L466.9 270.3 M482.6 282.9 L485.1 281.4 L487.6 282.4 L488.1 284.9 L485.6 287.0 L483.1 286.0 L482.6 282.9 M488.1 284.9 L491.7 283.4 L495.7 284.4 L499.7 283.4 L505.0 282.4 M450.3 270.3 L453.3 269.3 L456.3 270.3 L459.3 272.3 L461.9 273.8 L464.9 274.8 L466.4 276.4 L465.4 278.4 L462.4 277.4 L459.3 276.4 L456.3 275.4 L453.3 274.3 L450.8 272.8 L450.3 270.3 M433.1 283.4 L435.1 280.4 L438.1 277.9 L441.2 276.4 L444.2 274.3 L446.7 273.3 L447.7 275.4 L446.7 277.9 L449.2 279.9 L451.8 282.4 L454.3 284.9 L457.3 286.0 L459.3 287.5 L455.3 288.0 L452.3 286.5 L449.2 285.5 L446.2 286.5 L443.2 285.5 L440.2 286.0 L437.1 284.9 L434.6 285.5 L433.1 283.4 M455.3 280.4 L458.3 278.9 L460.9 280.4 L459.8 282.9 L457.3 284.4 L455.3 282.9 L455.3 280.4 M462.4 284.4 L465.4 283.4 L467.4 285.5 L466.4 288.0 L463.9 288.5 L461.9 287.0 L462.4 284.4 M467.4 278.9 L470.5 279.9 L473.5 280.4 L476.5 281.4 L479.5 280.4 L481.1 282.4 L481.6 285.5 L479.5 287.5 L476.5 286.5 L473.5 287.5 L470.5 286.5 L468.4 284.4 L467.4 281.4 L467.4 278.9 M442.7 276.9 L445.7 275.4 L446.7 277.9 L444.7 279.9 L442.2 278.9 L442.7 276.9 M430.3 293.1 L433.3 292.1 L436.4 292.6 L438.9 295.1 L440.4 297.6 L438.4 299.1 L436.4 300.2 L435.4 302.7 L437.4 304.7 L435.4 305.7 L432.3 305.7 L429.8 304.7 L428.8 302.2 L429.3 299.1 L428.8 296.1 L430.3 293.1 M440.4 297.6 L443.4 299.1 L447.5 298.1 L450.5 298.6 L453.5 300.2 L456.1 303.7 L458.1 305.7 L460.6 307.7 L463.1 309.2 L463.6 312.3 L462.1 315.3 L459.6 316.8 L456.1 315.3 L453.0 315.8 L450.5 317.3 L447.5 318.8 L444.4 319.8 L442.9 321.9 L441.4 320.4 L441.9 317.3 L440.4 315.3 L438.4 314.3 L436.9 312.3 L437.9 309.7 L440.4 309.2 L443.4 309.7 L441.4 310.8 L439.4 310.3 M399.5 300.2 L403.0 303.2 L406.1 306.7 L408.6 309.7 L412.1 309.2 L416.2 308.7 L419.2 307.7 L420.7 306.2 L421.7 308.2 L424.2 310.3 L425.8 312.3 L428.8 312.8 L430.3 311.3 L433.3 312.8 L435.9 314.3 L438.4 314.3 M442.9 321.9 L447.5 320.9 L451.5 319.3 L455.6 317.3 L459.6 317.3 L462.6 319.3 L466.7 320.4 L469.7 318.3 L472.7 317.3 L474.7 314.3 M423.2 327.4 L427.3 326.4 L430.3 325.9 L432.8 324.9 L433.3 327.4 L436.4 328.4 L434.8 330.5 L432.3 331.0 L431.3 333.5 L429.3 334.3 L427.8 332.5 L425.3 333.0 L426.8 331.0 L429.3 329.4 L426.8 328.4 L423.2 327.4 M506.5 284.5 L509.5 287.0 L511.5 289.5 L515.6 288.0 L520.6 287.0 L524.6 287.0 L526.7 289.5 L527.2 293.1 L523.6 294.6 L519.6 295.6 L520.6 297.6 L524.6 298.6 L529.7 299.6 L533.7 301.2 L534.7 303.7 L530.7 305.2 L526.7 305.7 L525.2 306.7 L529.7 307.2 L534.7 307.7 L535.3 309.2 L530.7 310.3 L525.7 310.8 L520.6 311.3 L516.6 311.8 L512.5 312.8 L510.5 315.3 L509.0 314.8 L507.5 312.3 L508.5 310.3 L510.5 309.2 L512.0 306.7 L510.5 304.2 L508.5 300.2 L506.0 297.1 L502.4 296.1 L499.4 296.6 L497.9 295.1 L494.8 295.1 L492.3 297.6 L490.3 299.6 L488.3 300.2 L491.3 301.2 L493.3 303.2 L493.8 306.2 L495.4 307.7 L497.4 310.3 L496.4 313.3 L495.4 315.3 L491.3 315.8 M491.3 315.8 L495.4 315.3 L496.4 318.3 L500.4 318.8 L504.4 319.3 L507.5 319.8 L507.0 321.9 L504.4 322.4 L502.4 323.4 L501.4 325.4 L500.4 327.9 L498.4 328.4 L496.9 326.4 L495.4 324.9 L494.3 322.9 L492.8 320.4 L492.3 318.3 L491.3 315.8 M493.3 321.4 L492.3 325.4 L490.3 329.4 L489.8 333.5 L488.3 337.5 L487.3 341.6 L486.8 345.4 M501.4 300.7 L503.4 299.1 L505.5 300.7 L505.5 303.2 L503.4 304.4 L501.6 303.2 L501.4 300.7 M504.9 329.4 L506.0 326.9 L507.3 326.6 L506.7 328.9 L504.9 329.4 M511.5 324.9 L513.0 325.4 L514.5 328.4 L513.3 328.9 L511.5 324.9 M475.2 287.0 L474.1 291.1 L475.2 295.1 L477.7 298.1 L480.2 299.6 M543.1 310.5 L545.7 309.8 L550.7 311.7 L557.0 313.6 L561.4 316.8 L567.1 316.1 L572.2 314.2 L576.0 313.0 L580.0 313.6 M543.1 310.5 L542.5 313.6 L545.7 315.5 L546.3 319.3 L544.4 322.4 L540.6 321.8 L537.4 319.3 L534.3 316.8 L530.5 315.5 L533.0 318.0 L529.2 317.4 L524.2 317.4 L519.1 319.9 L516.0 322.4 L515.4 325.6 L517.9 329.4 L521.0 332.6 L522.9 335.7 L525.5 338.2 L529.9 340.5 M483.2 282.7 L486.3 281.4 L488.6 283.9 L487.6 287.1 L484.4 287.7 L482.5 285.2 L483.2 282.7 M493.4 321.4 L492.0 325.2 L489.4 330.3 L487.7 335.5 L486.9 342.3 L487.7 348.3 L490.3 353.5 L494.6 356.9 L498.0 361.2 L502.3 359.5 L508.3 360.3 L515.2 360.3 L521.2 358.6 L525.5 356.9 L528.9 361.2 L530.6 365.5 L535.8 368.1 L540.9 370.1 L542.7 365.5 L539.2 361.2 L534.9 356.9 L532.4 354.3 L534.9 350.0 L535.8 345.8 L532.4 341.5 L529.8 340.4 M527.2 347.5 L529.4 348.3 L529.8 350.9 L527.7 350.6 L527.2 347.5 M516.9 406.7 L520.3 399.8 L523.8 393.8 L526.4 391.2 L530.6 390.4 L533.2 393.0 L536.7 392.1 L539.2 395.5 L540.9 397.3 L537.5 399.0 L533.2 398.1 L529.8 399.8 L526.4 399.0 L525.5 402.4 L522.1 405.0 L519.5 406.7 L516.9 406.7 M540.9 397.3 L544.4 395.5 L548.7 394.7 L553.8 393.5 L558.1 393.8 L559.8 396.4 L557.3 398.1 L553.8 397.3 L555.5 401.5 L556.4 405.8 L553.8 405.0 L551.2 401.5 L549.5 404.1 L550.4 408.4 L547.8 405.8 L546.1 400.7 L542.7 399.8 L540.1 402.4 L539.2 407.6 L540.9 413.6 L543.5 418.7 L540.9 419.6 L537.5 416.1 L534.9 410.1 L534.9 404.1 L537.5 399.8 L540.9 397.3 M556.4 415.3 L559.8 411.0 L563.3 406.7 L566.7 402.4 L568.4 403.3 L565.8 407.6 L562.4 412.7 L559.0 416.1 L556.4 415.3 M563.3 400.7 L565.8 396.4 L569.3 393.0 L571.8 390.0 L573.6 391.2 L572.7 394.7 L569.3 398.1 L565.8 401.5 L563.3 400.7 M486.0 381.8 L488.6 381.5 L491.2 385.2 L493.7 388.7 L496.3 390.4 L497.2 394.7 L494.6 395.5 L492.0 392.1 L489.4 389.5 L486.9 386.1 L486.0 381.8 M480.9 386.1 L483.4 387.8 L485.2 391.2 L487.7 393.8 L490.3 396.4 L491.2 398.1 L488.6 397.3 L486.0 394.7 L483.4 392.1 L481.7 389.5 L480.0 387.0 M560.0 313.3 L563.8 316.4 L568.8 315.8 L573.9 312.6 L578.9 312.6 L583.4 311.4 L587.1 313.3 L589.0 316.4 L588.4 321.5 L587.1 327.8 L585.9 332.8 L582.7 336.6 L578.9 340.4 L575.8 345.5 L575.2 351.8 L575.8 358.1 L576.4 364.4 L577.0 368.8 L578.3 365.7 L578.3 359.3 L578.9 353.0 L580.8 348.6 L584.0 346.1 L586.5 348.0 L585.3 351.8 L587.8 350.5 L590.3 351.8 L593.5 354.3 L596.6 353.0 L600.4 350.5 L602.9 347.3 L602.3 343.6 L600.4 341.7 L603.6 341.0 L607.3 344.2 L606.1 349.2 L604.8 354.3 L604.2 359.3 L603.6 364.4 L600.4 366.3 L598.5 363.8 L597.9 359.3 L598.5 356.8 L596.6 357.4 L594.7 361.9 L593.5 366.9 L592.2 372.0 L590.9 375.5 M589.7 315.2 L591.6 318.9 L594.1 324.0 L596.6 329.0 L598.5 333.5 L600.4 335.4 L602.9 332.2 L605.5 328.4 L608.6 325.9 L610.5 327.1 L611.8 322.7 L614.3 321.5 L614.9 318.9 L612.4 317.0 L609.2 316.4 L606.7 315.8 L603.6 315.8 L600.4 318.3 L597.9 320.2 L596.0 322.1 L593.5 318.9 L591.6 315.8 L589.7 315.2 M581.5 340.4 L584.6 338.5 L588.4 337.5 L589.7 338.9 L587.1 340.7 L583.4 342.0 L581.5 340.4 M593.5 351.1 L596.6 349.2 L599.8 347.3 L601.7 348.0 L600.4 350.5 L597.2 352.0 L594.1 352.4 L593.5 351.1 M594.5 359.2 L593.0 366.1 L590.8 372.1 L590.0 378.2 L592.3 382.7 L596.1 384.2 L598.3 385.8 L595.3 388.0 L593.0 392.6 L590.8 396.4 L589.2 400.2 L591.5 400.9 L592.3 405.5 L591.5 408.5 L588.5 408.5 L586.2 411.5 L588.5 415.3 L592.3 419.1 L595.3 421.4 M595.3 388.0 L592.3 392.6 L589.7 397.9 L590.8 400.6 L593.0 396.4 L594.8 391.8 L595.3 388.0 M593.0 408.5 L594.5 413.0 L595.3 418.3 L596.1 421.4 M597.6 359.2 L598.3 364.5 L600.6 366.8 L603.3 365.3 L602.9 359.2 M576.4 359.2 L576.7 366.1 L577.6 368.3 L577.9 363.0 L577.6 359.2 M420.0 308.7 L413.4 308.7 L408.4 309.9 L405.9 306.8 L402.7 303.0 L398.9 298.6 L395.8 295.4 L392.6 291.0 L389.4 287.2 L385.7 284.7 L381.9 283.4 L378.1 282.8 L374.3 282.1 L370.5 281.5 L368.6 283.4 L367.3 287.2 L366.7 291.0 L365.5 294.1 L363.6 292.9 L362.3 289.7 L358.5 288.5 L356.0 290.4 L355.4 292.9 L357.2 296.0 L360.4 298.6 L361.7 300.5 L359.1 303.6 L356.0 302.3 L352.2 301.1 L348.4 301.1 L344.6 302.3 L342.7 305.5 L341.5 309.3 L343.4 313.1 L341.5 316.9 L342.1 320.7 L344.6 323.2 L347.1 325.1 L345.3 327.6 L340.8 328.2 L336.4 327.6 L332.0 327.0 L326.3 325.7 L319.4 324.4 M344.0 289.1 L345.9 287.2 L347.1 289.1 L348.4 288.5 L347.1 291.0 L345.9 292.2 L344.6 291.0 L343.4 289.7 L344.0 289.1 M337.0 303.6 L338.9 304.9 L339.6 308.0 L337.9 306.8 L337.0 303.6 M346.5 330.5 L354.1 328.9 L361.7 327.0 L367.3 326.3 L368.6 327.6 L364.2 328.9 L360.4 330.5 M319.4 324.4 L320.3 324.4 L319.5 325.9 L324.1 327.4 L328.6 329.7 L333.2 332.0 L338.5 332.7 L344.5 332.7 L350.6 332.0 L355.2 331.2 L355.9 328.9 L358.9 329.7 L359.7 332.7 L362.7 334.2 L367.3 335.0 L370.3 331.2 L372.6 333.5 L374.8 337.3 L377.9 340.3 L380.9 343.3 L383.9 345.6 L386.2 349.4 L387.7 353.9 L389.2 358.5 L390.0 363.0 L391.5 360.0 L392.3 355.5 L393.8 358.5 L394.5 363.0 L393.0 367.6 L394.5 370.6 L396.1 374.4 L399.1 376.7 L398.3 381.2 L397.6 385.8 L399.8 388.8 L401.4 393.3 L402.9 397.1 L405.2 400.6 M306.7 319.8 L309.7 319.1 L314.2 322.1 L312.7 323.3 L308.9 321.4 L306.7 319.8 M347.6 335.8 L350.6 334.2 L355.2 334.2 L355.9 336.5 L352.9 338.0 L349.1 338.8 L347.6 335.8 M360.5 328.9 L362.7 326.7 L367.3 326.4 L368.8 328.2 L365.0 329.7 L362.0 332.0 L360.5 328.9 M390.8 376.7 L393.0 377.4 L393.8 382.7 L393.0 388.0 L391.2 384.2 L390.3 379.7 L390.8 376.7 M390.0 363.0 L391.2 366.8 L392.3 369.8 L393.8 367.6 L392.7 363.0 M383.0 344.5 L385.3 347.6 L387.6 352.1 L389.1 356.7 L390.6 361.2 L392.9 365.8 L395.2 370.3 L396.7 374.1 L398.9 376.4 L397.4 380.2 L399.7 385.5 L402.0 390.0 L402.7 395.3 L406.5 399.1 L410.3 403.6 L413.3 406.7 L414.8 405.2 L415.6 410.5 L414.1 415.0 M408.8 411.2 L408.8 421.1 M399.7 396.8 L402.0 396.1 L405.8 399.8 L409.5 404.4 L412.6 407.4 L415.6 411.2 L415.6 415.0 L413.3 414.2 L410.3 410.5 L406.5 406.7 L402.7 402.1 L399.7 398.3 L399.7 396.8 M389.8 356.7 L392.1 354.4 L393.6 358.2 L395.2 363.5 L392.9 362.7 L390.6 364.2 L389.8 356.7 M394.4 367.3 L395.9 370.3 L397.0 374.1 L395.2 372.6 L394.4 367.3 M436.8 352.1 L439.8 349.1 L440.6 346.8 L444.4 347.6 L448.2 345.3 L452.7 344.2 L453.5 345.8 L449.7 347.6 L446.7 349.8 L443.6 352.1 L440.6 353.9 L437.6 353.6 L436.8 352.1 M449.7 363.5 L452.0 360.5 L454.2 358.5 L458.0 359.4 L457.3 361.2 L454.2 362.0 L452.0 364.2 L449.7 363.5 M471.7 364.2 L473.2 363.0 L474.2 366.5 L473.6 371.1 L471.7 371.8 L471.4 368.0 L471.7 364.2 M480.7 284.7 L477.1 286.0 L474.9 288.3 L473.6 291.4 L474.0 294.9 L475.8 297.5 L478.9 299.7 L482.4 301.1 L486.0 301.1 L488.6 300.2 L492.1 298.4 L493.9 296.2 L496.6 295.8 L500.1 296.7 L501.9 298.9 L501.0 301.5 L501.9 304.2 L505.4 304.6 L507.6 301.5 L507.2 298.9 L510.0 299.7 M478.9 291.8 L480.2 293.1 L481.5 294.4 L480.2 294.0 L478.9 291.8 M469.2 286.5 L471.4 289.1 L470.9 292.7 L470.1 296.2 L468.3 299.7 L468.7 302.4 L469.2 305.9 L470.9 308.6 L473.6 309.9 L475.4 312.1 L474.9 314.8 L472.7 317.4 L470.5 316.5 L470.1 313.9 L468.3 312.1 L466.5 310.4 L464.7 312.1 L463.4 314.8 L464.7 317.4 L467.4 318.8 L470.1 318.3 M462.5 284.7 L464.3 283.8 L466.3 284.7 L466.5 286.5 L464.7 287.6 L462.8 286.7 L462.5 284.7 M492.1 300.6 L493.0 303.3 L496.1 305.9 L496.6 310.4 L496.6 314.8 L493.0 315.2 L490.4 316.1 L492.1 316.5 L493.0 321.0 L492.1 324.5 L492.1 328.0 M493.0 317.4 L496.6 321.0 L500.1 324.5 L501.9 328.0 M439.6 315.7 L443.5 316.5 L447.1 319.2 L450.6 321.0 L453.3 319.2 L455.0 316.5 L456.8 314.8 L459.4 316.5 L462.1 319.2 L465.6 320.1 L469.2 319.2 M461.2 310.4 L463.9 309.0 L466.5 310.4 L465.6 312.6 L463.0 313.0 L461.2 310.4 M460.3 299.7 L463.0 298.9 L465.6 300.6 L466.5 304.2 L464.7 306.8 L462.1 305.9 L460.8 303.3 L460.3 299.7 M445.3 278.5 L448.8 276.8 L452.4 278.1 L453.3 281.2 L450.6 283.4 L447.1 283.0 L444.9 280.7 L445.3 278.5 M455.0 280.3 L457.7 279.0 L459.9 280.7 L459.0 283.4 L456.4 283.8 L454.8 282.1 L455.0 280.3 M469.2 286.5 L466.5 286.9 L465.2 289.6 L466.1 293.6 L468.3 295.8 L470.1 296.2 M469.2 276.8 L473.6 275.9 L478.0 276.8 L480.7 279.0 L478.9 281.2 L475.4 282.1 L471.8 281.6 L469.6 279.4 L469.2 276.8 M448.8 286.5 L452.4 285.6 L455.9 286.9 L457.7 285.6 M445.3 298.0 L448.8 299.3 L452.4 298.4 L455.0 300.6 L454.1 304.2 L450.6 305.1 L447.1 303.3 L444.9 300.6 L445.3 298.0 M379.7 204.7 L382.4 203.4 L385.1 204.3 L385.9 206.5 L384.6 208.3 L383.3 210.5 L381.1 211.8 L379.7 210.1 L379.3 207.4 L379.7 204.7 M371.4 206.1 L374.0 205.2 L376.2 206.1 L374.9 208.1 L372.2 208.3 L371.4 206.1 M377.8 215.4 L379.7 214.9 L380.2 217.1 L378.4 218.2 L377.5 216.9 L377.8 215.4 M435.1 280.4 L438.1 278.4 L440.7 279.9 L440.2 282.9 L437.1 284.4 L434.6 282.9 L435.1 280.4 M448.2 276.4 L451.3 275.4 L453.8 277.4 L452.8 280.4 L449.7 280.9 L447.7 278.9 L448.2 276.4 M460.4 280.4 L463.4 279.4 L465.4 281.4 L464.4 284.4 L461.4 284.9 L459.8 282.9 L460.4 280.4 M433.1 287.5 L437.1 286.5 L441.2 288.0 L445.2 287.0 L449.2 288.5 L453.3 287.5 L457.3 289.0 L460.4 288.0 M431.1 294.5 L434.1 296.6 L438.1 298.1 L442.2 299.6 L446.2 300.4 M459.8 290.5 L462.4 292.5 L461.4 296.6 L463.4 299.6 M467.4 286.5 L470.5 287.5 L472.5 290.5 L471.5 294.5 L473.0 298.6 L475.5 300.4" fill="none" stroke="#000" stroke-width="0.7" stroke-linejoin="round"/>
</g>
<rect x="143.5" y="35.4" width="509.5" height="384.70000000000005" fill="none" stroke="#000" stroke-width="1.3"/>
<path d="M653.0 54.4 h11.6 M653.0 130.9 h11.6 M653.0 191.2 h11.6 M653.0 246.5 h11.6 M653.0 305.0 h11.6 M653.0 376.9 h11.6 M143.5 109.4 h-11.6 M143.5 192.9 h-11.6 M143.5 271.9 h-11.6 M143.5 357.8 h-11.6 " stroke="#000" stroke-width="1.1" fill="none"/>
<g font-size="15.2"><text transform="translate(673.8 60.3) scale(0.99 1.07)">15°E</text><text transform="translate(673.8 136.8) scale(0.99 1.07)">0°</text><text transform="translate(673.8 197.1) scale(0.99 1.07)">15°W</text><text transform="translate(673.8 252.4) scale(0.99 1.07)">30°W</text><text transform="translate(673.8 310.9) scale(0.99 1.07)">45°W</text><text transform="translate(673.8 382.8) scale(0.99 1.07)">60°W</text><text transform="translate(121.8 115.3) scale(0.99 1.07)" text-anchor="end">135°E</text><text transform="translate(121.8 198.8) scale(0.99 1.07)" text-anchor="end">150°E</text><text transform="translate(121.8 277.8) scale(0.99 1.07)" text-anchor="end">165°E</text><text transform="translate(121.8 363.7) scale(0.99 1.07)" text-anchor="end">180°</text></g>
<g font-size="14" font-weight="bold"><text x="523" y="438.7">Sea Ice</text><text x="523" y="455.1">Valid: 2006080700Z</text></g>
<text x="398" y="477.7" font-size="17.5" text-anchor="middle">Fraction - Binary Difference</text>
<rect x="149.10" y="493.7" width="29.29" height="34.0" fill="#000080"/><rect x="178.39" y="493.7" width="29.29" height="34.0" fill="#0000a0"/><rect x="207.68" y="493.7" width="29.29" height="34.0" fill="#0000c0"/><rect x="236.97" y="493.7" width="29.29" height="34.0" fill="#0000e0"/><rect x="266.26" y="493.7" width="29.29" height="34.0" fill="#0000ff"/><rect x="295.55" y="493.7" width="29.29" height="34.0" fill="#4040ff"/><rect x="324.84" y="493.7" width="29.29" height="34.0" fill="#8080ff"/><rect x="354.13" y="493.7" width="29.29" height="34.0" fill="#c0c0ff"/><rect x="383.42" y="493.7" width="29.29" height="34.0" fill="#ffffff"/><rect x="412.71" y="493.7" width="29.29" height="34.0" fill="#ffc0c0"/><rect x="442.00" y="493.7" width="29.29" height="34.0" fill="#ff8080"/><rect x="471.29" y="493.7" width="29.29" height="34.0" fill="#ff4040"/><rect x="500.58" y="493.7" width="29.29" height="34.0" fill="#ff0000"/><rect x="529.87" y="493.7" width="29.29" height="34.0" fill="#e00000"/><rect x="559.16" y="493.7" width="29.29" height="34.0" fill="#c00000"/><rect x="588.45" y="493.7" width="29.29" height="34.0" fill="#a00000"/><rect x="617.74" y="493.7" width="29.29" height="34.0" fill="#800000"/><rect x="178.09" y="493.7" width="0.6" height="34.0" fill="#fff" opacity="0.28"/><rect x="207.38" y="493.7" width="0.6" height="34.0" fill="#fff" opacity="0.28"/><rect x="236.67" y="493.7" width="0.6" height="34.0" fill="#fff" opacity="0.28"/><rect x="265.96" y="493.7" width="0.6" height="34.0" fill="#fff" opacity="0.28"/><rect x="295.25" y="493.7" width="0.6" height="34.0" fill="#fff" opacity="0.28"/><rect x="324.54" y="493.7" width="0.6" height="34.0" fill="#fff" opacity="0.28"/><rect x="353.83" y="493.7" width="0.6" height="34.0" fill="#fff" opacity="0.28"/><rect x="441.70" y="493.7" width="0.6" height="34.0" fill="#fff" opacity="0.28"/><rect x="470.99" y="493.7" width="0.6" height="34.0" fill="#fff" opacity="0.28"/><rect x="500.28" y="493.7" width="0.6" height="34.0" fill="#fff" opacity="0.28"/><rect x="529.57" y="493.7" width="0.6" height="34.0" fill="#fff" opacity="0.28"/><rect x="558.86" y="493.7" width="0.6" height="34.0" fill="#fff" opacity="0.28"/><rect x="588.15" y="493.7" width="0.6" height="34.0" fill="#fff" opacity="0.28"/><rect x="617.44" y="493.7" width="0.6" height="34.0" fill="#fff" opacity="0.28"/>
<text transform="translate(183.6 537.5) rotate(-90)" text-anchor="end" font-size="14">-0.8</text><text transform="translate(212.9 537.5) rotate(-90)" text-anchor="end" font-size="14">-0.7</text><text transform="translate(242.2 537.5) rotate(-90)" text-anchor="end" font-size="14">-0.6</text><text transform="translate(271.5 537.5) rotate(-90)" text-anchor="end" font-size="14">-0.5</text><text transform="translate(300.7 537.5) rotate(-90)" text-anchor="end" font-size="14">-0.4</text><text transform="translate(330.0 537.5) rotate(-90)" text-anchor="end" font-size="14">-0.3</text><text transform="translate(359.3 537.5) rotate(-90)" text-anchor="end" font-size="14">-0.2</text><text transform="translate(388.6 537.5) rotate(-90)" text-anchor="end" font-size="14">-0.1</text><text transform="translate(417.9 537.5) rotate(-90)" text-anchor="end" font-size="14">0.1</text><text transform="translate(447.2 537.5) rotate(-90)" text-anchor="end" font-size="14">0.2</text><text transform="translate(476.5 537.5) rotate(-90)" text-anchor="end" font-size="14">0.3</text><text transform="translate(505.8 537.5) rotate(-90)" text-anchor="end" font-size="14">0.4</text><text transform="translate(535.1 537.5) rotate(-90)" text-anchor="end" font-size="14">0.5</text><text transform="translate(564.4 537.5) rotate(-90)" text-anchor="end" font-size="14">0.6</text><text transform="translate(593.6 537.5) rotate(-90)" text-anchor="end" font-size="14">0.7</text><text transform="translate(622.9 537.5) rotate(-90)" text-anchor="end" font-size="14">0.8</text>
</svg>
</body></html>
